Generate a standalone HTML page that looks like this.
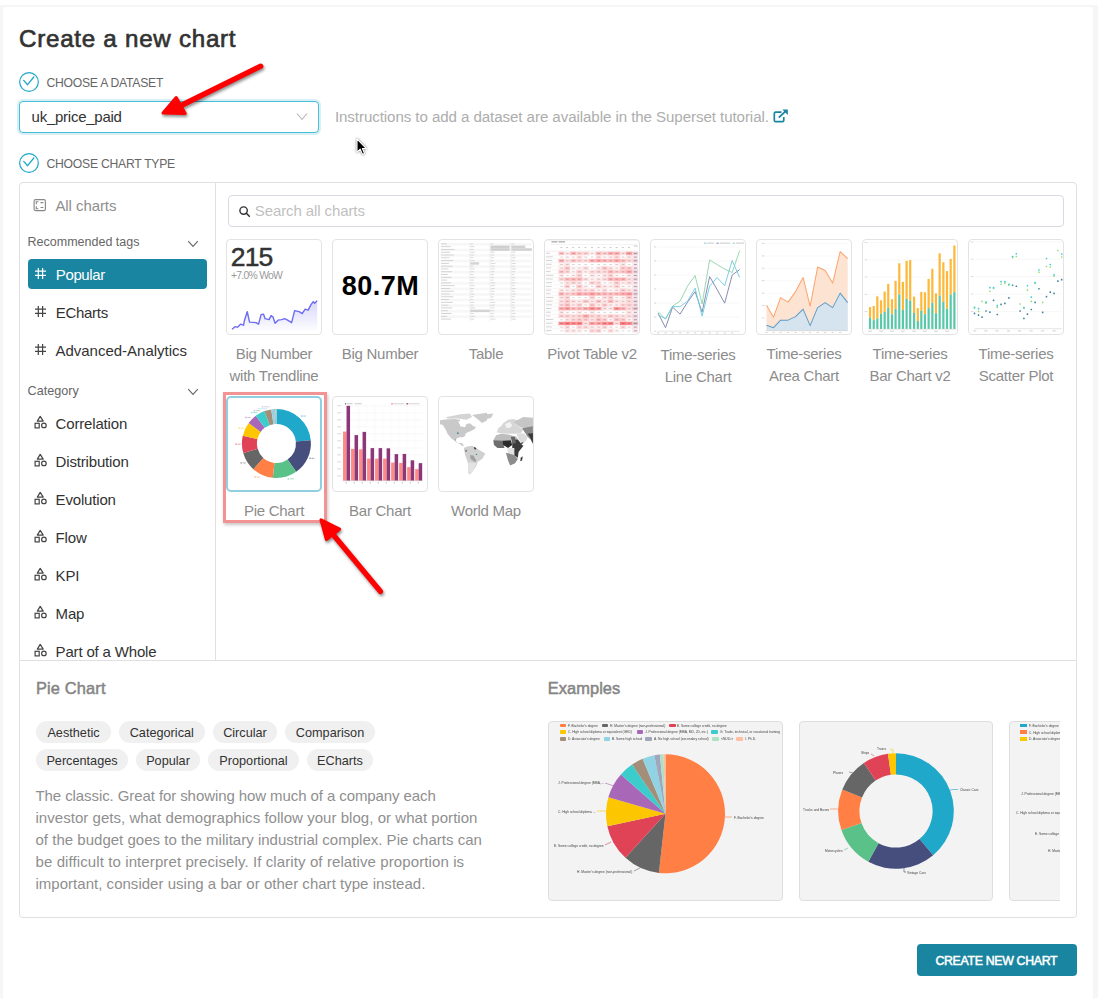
<!DOCTYPE html><html><head><meta charset="utf-8"><style>
html,body{margin:0;padding:0;}
body{width:1098px;height:998px;position:relative;overflow:hidden;background:#fff;font-family:"Liberation Sans",sans-serif;}
.t{position:absolute;white-space:pre;}
.b{position:absolute;box-sizing:border-box;}
svg{position:absolute;overflow:visible;}
</style></head><body>
<div class="b" style="left:0px;top:5px;width:1098px;height:993px;background:#f6f6f6;"></div>
<div class="b" style="left:3px;top:7px;width:1090px;height:1000px;background:#fff;border-radius:4px;"></div>
<div class="t" style="left:19.0px;top:23.69px;font-size:24.2px;line-height:29.04px;color:#323232;letter-spacing:0.72px;-webkit-text-stroke:0.65px #323232;">Create a new chart</div>
<svg style="left:19px;top:72px" width="20" height="20" viewBox="0 0 20 20"><circle cx="10" cy="10" r="9.35" fill="none" stroke="#20a7c9" stroke-width="1.2"/><path d="M4.7 8.4 L8.6 12.7 L14.8 5.0" fill="none" stroke="#20a7c9" stroke-width="1.3" stroke-linecap="round" stroke-linejoin="round"/></svg>
<div class="t" style="left:46.4px;top:75.95px;font-size:12.2px;line-height:14.64px;color:#666;letter-spacing:-0.25px;">CHOOSE A DATASET</div>
<svg style="left:19px;top:153px" width="20" height="20" viewBox="0 0 20 20"><circle cx="10" cy="10" r="9.35" fill="none" stroke="#20a7c9" stroke-width="1.2"/><path d="M4.7 8.4 L8.6 12.7 L14.8 5.0" fill="none" stroke="#20a7c9" stroke-width="1.3" stroke-linecap="round" stroke-linejoin="round"/></svg>
<div class="t" style="left:46.5px;top:156.95px;font-size:12.2px;line-height:14.64px;color:#666;letter-spacing:-0.25px;">CHOOSE CHART TYPE</div>
<div class="b" style="left:19px;top:101px;width:300px;height:32px;border:1px solid #45bed6;border-radius:4px;box-shadow:0 0 0 2px rgba(32,167,201,0.18);background:#fff;"></div>
<div class="t" style="left:31.6px;top:108.30px;font-size:15px;line-height:18.0px;color:#323232;letter-spacing:-0.26px;">uk_price_paid</div>
<svg style="left:296px;top:112px" width="12" height="9" viewBox="0 0 12 9"><path d="M1 1.5 L6 7.5 L11 1.5" fill="none" stroke="#b5b5b5" stroke-width="1.1"/></svg>
<div class="t" style="left:334.9px;top:108.21px;font-size:15.1px;line-height:18.12px;color:#adadad;letter-spacing:-0.07px;">Instructions to add a dataset are available in the Superset tutorial.</div>
<svg style="left:773px;top:109px" width="16" height="14" viewBox="0 0 16 14"><path d="M8.5 3.2 H2.8 Q1.3 3.2 1.3 4.7 V11.2 Q1.3 12.7 2.8 12.7 H9.3 Q10.8 12.7 10.8 11.2 V8" fill="none" stroke="#1a85a0" stroke-width="1.7"/><path d="M5.8 8.6 L13.2 1.6" stroke="#1a85a0" stroke-width="1.9"/><path d="M9.3 0.6 H14.8 V6.1 Z" fill="#1a85a0"/></svg>
<svg style="left:355.4px;top:137px" width="14" height="20" viewBox="0 0 14 20"><path d="M2 1.8 V15.2 L5.2 12.2 L7.5 17.4 L9.6 16.5 L7.4 11.5 L11.4 11.5 Z" fill="#000" stroke="#fff" stroke-width="1.1" stroke-linejoin="round" style="filter:drop-shadow(0.6px 0.9px 0.8px rgba(0,0,0,0.55))"/></svg>
<div class="b" style="left:19px;top:182px;width:1058px;height:736px;border:1px solid #e0e0e0;border-radius:4px;"></div>
<div class="b" style="left:215px;top:183px;width:1px;height:477px;background:#e0e0e0;"></div>
<div class="b" style="left:20px;top:660px;width:1056px;height:1px;background:#e0e0e0;"></div>
<div class="b" style="left:20px;top:183px;width:195px;height:477px;overflow:hidden;">
<div style="position:absolute;left:-20px;top:-183px;width:300px;height:900px;">
<svg style="left:32.7px;top:199px" width="13" height="13" viewBox="0 0 13 13"><rect x="1.1" y="0.6" width="11.3" height="11.0" rx="1.6" fill="none" stroke="#888" stroke-width="1.15"/><path d="M5.4 2.7 H3.3 V5.2 M5.4 9.7 H3.3 V7.3" fill="none" stroke="#888" stroke-width="1.15"/><path d="M7.5 3.6 H10.4 M7.5 8.5 H10.4" stroke="#888" stroke-width="1.2"/></svg>
<div class="t" style="left:55.4px;top:197.30px;font-size:15px;line-height:18.0px;color:#8e8e8e;letter-spacing:-0.07px;">All charts</div>
<div class="t" style="left:27.6px;top:234.67px;font-size:12.5px;line-height:15.0px;color:#666;">Recommended tags</div>
<svg style="left:187px;top:239.8px" width="12" height="8" viewBox="0 0 12 8"><path d="M1.2 1.2 L6 6.4 L10.8 1.2" fill="none" stroke="#666" stroke-width="1.1"/></svg>
<div class="b" style="left:28px;top:259px;width:179px;height:30px;background:#1a85a0;border-radius:4px;"></div>
<svg style="left:34px;top:267.0px" width="13" height="13" viewBox="0 0 13 13"><path d="M4.3 1 V12 M8.6 1 V12 M1 4.1 H12 M1 8.3 H12" stroke="#fff" stroke-width="1.2"/></svg>
<div class="t" style="left:55.8px;top:266.30px;font-size:15px;line-height:18.0px;color:#fff;letter-spacing:-0.38px;">Popular</div>
<svg style="left:34px;top:304.7px" width="13" height="13" viewBox="0 0 13 13"><path d="M4.3 1 V12 M8.6 1 V12 M1 4.1 H12 M1 8.3 H12" stroke="#444" stroke-width="1.2"/></svg>
<div class="t" style="left:55.8px;top:304.30px;font-size:15px;line-height:18.0px;color:#323232;letter-spacing:-0.3px;">ECharts</div>
<svg style="left:34px;top:342.7px" width="13" height="13" viewBox="0 0 13 13"><path d="M4.3 1 V12 M8.6 1 V12 M1 4.1 H12 M1 8.3 H12" stroke="#444" stroke-width="1.2"/></svg>
<div class="t" style="left:55.4px;top:342.30px;font-size:15px;line-height:18.0px;color:#323232;">Advanced-Analytics</div>
<div class="t" style="left:27.6px;top:383.57px;font-size:12.6px;line-height:15.12px;color:#666;">Category</div>
<svg style="left:187px;top:388.3px" width="12" height="8" viewBox="0 0 12 8"><path d="M1.2 1.2 L6 6.4 L10.8 1.2" fill="none" stroke="#666" stroke-width="1.1"/></svg>
<svg style="left:33.5px;top:416.2px" width="13" height="13" viewBox="0 0 13 13"><path d="M6.2 0.4 L9.2 5.1 H3.3 Z" fill="none" stroke="#444" stroke-width="1.2" stroke-linejoin="round"/><rect x="1.1" y="7.3" width="4.1" height="4.6" fill="none" stroke="#444" stroke-width="1.2"/><circle cx="9.9" cy="9.4" r="2.3" fill="none" stroke="#444" stroke-width="1.2"/></svg>
<div class="t" style="left:55.6px;top:415.30px;font-size:15px;line-height:18.0px;color:#323232;letter-spacing:-0.17px;">Correlation</div>
<svg style="left:33.5px;top:454.2px" width="13" height="13" viewBox="0 0 13 13"><path d="M6.2 0.4 L9.2 5.1 H3.3 Z" fill="none" stroke="#444" stroke-width="1.2" stroke-linejoin="round"/><rect x="1.1" y="7.3" width="4.1" height="4.6" fill="none" stroke="#444" stroke-width="1.2"/><circle cx="9.9" cy="9.4" r="2.3" fill="none" stroke="#444" stroke-width="1.2"/></svg>
<div class="t" style="left:55.6px;top:453.30px;font-size:15px;line-height:18.0px;color:#323232;letter-spacing:-0.17px;">Distribution</div>
<svg style="left:33.5px;top:492.2px" width="13" height="13" viewBox="0 0 13 13"><path d="M6.2 0.4 L9.2 5.1 H3.3 Z" fill="none" stroke="#444" stroke-width="1.2" stroke-linejoin="round"/><rect x="1.1" y="7.3" width="4.1" height="4.6" fill="none" stroke="#444" stroke-width="1.2"/><circle cx="9.9" cy="9.4" r="2.3" fill="none" stroke="#444" stroke-width="1.2"/></svg>
<div class="t" style="left:55.6px;top:491.30px;font-size:15px;line-height:18.0px;color:#323232;letter-spacing:-0.17px;">Evolution</div>
<svg style="left:33.5px;top:530.2px" width="13" height="13" viewBox="0 0 13 13"><path d="M6.2 0.4 L9.2 5.1 H3.3 Z" fill="none" stroke="#444" stroke-width="1.2" stroke-linejoin="round"/><rect x="1.1" y="7.3" width="4.1" height="4.6" fill="none" stroke="#444" stroke-width="1.2"/><circle cx="9.9" cy="9.4" r="2.3" fill="none" stroke="#444" stroke-width="1.2"/></svg>
<div class="t" style="left:55.6px;top:529.30px;font-size:15px;line-height:18.0px;color:#323232;letter-spacing:-0.17px;">Flow</div>
<svg style="left:33.5px;top:568.2px" width="13" height="13" viewBox="0 0 13 13"><path d="M6.2 0.4 L9.2 5.1 H3.3 Z" fill="none" stroke="#444" stroke-width="1.2" stroke-linejoin="round"/><rect x="1.1" y="7.3" width="4.1" height="4.6" fill="none" stroke="#444" stroke-width="1.2"/><circle cx="9.9" cy="9.4" r="2.3" fill="none" stroke="#444" stroke-width="1.2"/></svg>
<div class="t" style="left:55.6px;top:567.30px;font-size:15px;line-height:18.0px;color:#323232;letter-spacing:-0.17px;">KPI</div>
<svg style="left:33.5px;top:606.2px" width="13" height="13" viewBox="0 0 13 13"><path d="M6.2 0.4 L9.2 5.1 H3.3 Z" fill="none" stroke="#444" stroke-width="1.2" stroke-linejoin="round"/><rect x="1.1" y="7.3" width="4.1" height="4.6" fill="none" stroke="#444" stroke-width="1.2"/><circle cx="9.9" cy="9.4" r="2.3" fill="none" stroke="#444" stroke-width="1.2"/></svg>
<div class="t" style="left:55.6px;top:605.30px;font-size:15px;line-height:18.0px;color:#323232;letter-spacing:-0.17px;">Map</div>
<svg style="left:33.5px;top:644.2px" width="13" height="13" viewBox="0 0 13 13"><path d="M6.2 0.4 L9.2 5.1 H3.3 Z" fill="none" stroke="#444" stroke-width="1.2" stroke-linejoin="round"/><rect x="1.1" y="7.3" width="4.1" height="4.6" fill="none" stroke="#444" stroke-width="1.2"/><circle cx="9.9" cy="9.4" r="2.3" fill="none" stroke="#444" stroke-width="1.2"/></svg>
<div class="t" style="left:55.6px;top:643.30px;font-size:15px;line-height:18.0px;color:#323232;letter-spacing:-0.17px;">Part of a Whole</div>
</div></div>
<div class="b" style="left:228px;top:195px;width:836px;height:32px;border:1px solid #d9dbe4;border-radius:4px;"></div>
<svg style="left:238px;top:205px" width="13" height="13" viewBox="0 0 13 13"><circle cx="5.6" cy="5.6" r="3.7" fill="none" stroke="#333" stroke-width="1.4"/><path d="M8.3 8.3 L11.3 11.3" stroke="#333" stroke-width="1.6" stroke-linecap="round"/></svg>
<div class="t" style="left:254.8px;top:202.30px;font-size:15px;line-height:18.0px;color:#bfbfbf;letter-spacing:-0.1px;">Search all charts</div>
<div class="b" style="left:226px;top:239px;width:96px;height:96px;border:1px solid #e3e3e3;border-radius:4px;background:#fff;"></div>
<div class="b" style="left:332px;top:239px;width:96px;height:96px;border:1px solid #e3e3e3;border-radius:4px;background:#fff;"></div>
<div class="b" style="left:438px;top:239px;width:96px;height:96px;border:1px solid #e3e3e3;border-radius:4px;background:#fff;"></div>
<div class="b" style="left:544px;top:239px;width:96px;height:96px;border:1px solid #e3e3e3;border-radius:4px;background:#fff;"></div>
<div class="b" style="left:650px;top:239px;width:96px;height:96px;border:1px solid #e3e3e3;border-radius:4px;background:#fff;"></div>
<div class="b" style="left:756px;top:239px;width:96px;height:96px;border:1px solid #e3e3e3;border-radius:4px;background:#fff;"></div>
<div class="b" style="left:862px;top:239px;width:96px;height:96px;border:1px solid #e3e3e3;border-radius:4px;background:#fff;"></div>
<div class="b" style="left:968px;top:239px;width:96px;height:96px;border:1px solid #e3e3e3;border-radius:4px;background:#fff;"></div>
<div class="b" style="left:0;top:0;width:1098px;height:998px;">
<svg style="left:225px;top:237px" width="100" height="100" viewBox="0 0 998 998"><defs><linearGradient id="g1" x1="0" y1="0" x2="0" y2="1"><stop offset="0" stop-color="#6e6cf0" stop-opacity="0.28"/><stop offset="1" stop-color="#6e6cf0" stop-opacity="0.02"/></linearGradient></defs><path d="M70 920 L100 895 L125 900 L155 870 L185 880 L195 830 L222 745 L245 850 L310 855 L335 870 L360 775 L385 770 L400 815 L440 825 L460 785 L480 800 L500 860 L530 830 L565 825 L595 815 L625 830 L665 855 L695 735 L740 745 L770 765 L800 720 L830 730 L855 680 L880 645 L895 660 L920 635 L920 930 L70 930 Z" fill="url(#g1)"/><path d="M70 920 L100 895 L125 900 L155 870 L185 880 L195 830 L222 745 L245 850 L310 855 L335 870 L360 775 L385 770 L400 815 L440 825 L460 785 L480 800 L500 860 L530 830 L565 825 L595 815 L625 830 L665 855 L695 735 L740 745 L770 765 L800 720 L830 730 L855 680 L880 645 L895 660 L920 635" fill="none" stroke="#6c6cf2" stroke-width="14" stroke-linejoin="round"/></svg>
<div class="t" style="left:230.8px;top:242.42px;font-size:26.5px;line-height:31.8px;color:#333;letter-spacing:-0.9px;-webkit-text-stroke:0.5px #333;">215</div>
<div class="t" style="left:231px;top:270.06px;font-size:10.4px;line-height:12.48px;color:#9a9a9a;letter-spacing:-0.75px;">+7.0% WoW</div>
<div class="t" style="left:341.8px;top:270.24px;font-size:27px;line-height:32.4px;color:#000;font-weight:700;letter-spacing:0.5px;">80.7M</div>
<svg style="left:437px;top:237px" width="100" height="100" viewBox="0 0 998 998"><rect x="35" y="60.0" width="910" height="26" fill="#f7f7f7"/><rect x="40" y="64.0" width="60" height="9" fill="#d0d0d0"/><rect x="335" y="64.0" width="25" height="9" fill="#d6d6d6"/><rect x="538" y="64.0" width="25" height="9" fill="#d6d6d6"/><rect x="745" y="64.0" width="25" height="9" fill="#d6d6d6"/><rect x="40" y="91.8" width="97" height="9" fill="#d0d0d0"/><rect x="335" y="91.8" width="38" height="9" fill="#d6d6d6"/><rect x="538" y="91.8" width="42" height="9" fill="#d6d6d6"/><rect x="745" y="91.8" width="36" height="9" fill="#d6d6d6"/><rect x="35" y="115.6" width="910" height="26" fill="#f7f7f7"/><rect x="40" y="119.6" width="134" height="9" fill="#d0d0d0"/><rect x="335" y="119.6" width="31" height="9" fill="#d6d6d6"/><rect x="538" y="119.6" width="39" height="9" fill="#d6d6d6"/><rect x="745" y="119.6" width="27" height="9" fill="#d6d6d6"/><rect x="40" y="147.4" width="91" height="9" fill="#d0d0d0"/><rect x="335" y="147.4" width="44" height="9" fill="#d6d6d6"/><rect x="538" y="147.4" width="36" height="9" fill="#d6d6d6"/><rect x="745" y="147.4" width="38" height="9" fill="#d6d6d6"/><rect x="35" y="171.2" width="910" height="26" fill="#f7f7f7"/><rect x="40" y="175.2" width="128" height="9" fill="#d0d0d0"/><rect x="335" y="175.2" width="37" height="9" fill="#d6d6d6"/><rect x="538" y="175.2" width="33" height="9" fill="#d6d6d6"/><rect x="745" y="175.2" width="29" height="9" fill="#d6d6d6"/><rect x="40" y="203.0" width="85" height="9" fill="#d0d0d0"/><rect x="335" y="203.0" width="30" height="9" fill="#d6d6d6"/><rect x="538" y="203.0" width="30" height="9" fill="#d6d6d6"/><rect x="745" y="203.0" width="40" height="9" fill="#d6d6d6"/><rect x="35" y="226.8" width="910" height="26" fill="#f7f7f7"/><rect x="40" y="230.8" width="122" height="9" fill="#d0d0d0"/><rect x="335" y="230.8" width="43" height="9" fill="#d6d6d6"/><rect x="538" y="230.8" width="27" height="9" fill="#d6d6d6"/><rect x="745" y="230.8" width="31" height="9" fill="#d6d6d6"/><rect x="40" y="258.6" width="79" height="9" fill="#d0d0d0"/><rect x="335" y="258.6" width="36" height="9" fill="#d6d6d6"/><rect x="538" y="258.6" width="44" height="9" fill="#d6d6d6"/><rect x="745" y="258.6" width="42" height="9" fill="#d6d6d6"/><rect x="35" y="282.4" width="910" height="26" fill="#f7f7f7"/><rect x="40" y="286.4" width="116" height="9" fill="#d0d0d0"/><rect x="335" y="286.4" width="29" height="9" fill="#d6d6d6"/><rect x="538" y="286.4" width="41" height="9" fill="#d6d6d6"/><rect x="745" y="286.4" width="33" height="9" fill="#d6d6d6"/><rect x="40" y="314.20000000000005" width="73" height="9" fill="#d0d0d0"/><rect x="335" y="314.20000000000005" width="42" height="9" fill="#d6d6d6"/><rect x="538" y="314.20000000000005" width="38" height="9" fill="#d6d6d6"/><rect x="745" y="314.20000000000005" width="44" height="9" fill="#d6d6d6"/><rect x="35" y="338.0" width="910" height="26" fill="#f7f7f7"/><rect x="40" y="342.0" width="110" height="9" fill="#d0d0d0"/><rect x="335" y="342.0" width="35" height="9" fill="#d6d6d6"/><rect x="538" y="342.0" width="35" height="9" fill="#d6d6d6"/><rect x="745" y="342.0" width="35" height="9" fill="#d6d6d6"/><rect x="40" y="369.8" width="67" height="9" fill="#d0d0d0"/><rect x="335" y="369.8" width="28" height="9" fill="#d6d6d6"/><rect x="538" y="369.8" width="32" height="9" fill="#d6d6d6"/><rect x="745" y="369.8" width="26" height="9" fill="#d6d6d6"/><rect x="35" y="393.6" width="910" height="26" fill="#f7f7f7"/><rect x="40" y="397.6" width="104" height="9" fill="#d0d0d0"/><rect x="335" y="397.6" width="41" height="9" fill="#d6d6d6"/><rect x="538" y="397.6" width="29" height="9" fill="#d6d6d6"/><rect x="745" y="397.6" width="37" height="9" fill="#d6d6d6"/><rect x="40" y="425.40000000000003" width="61" height="9" fill="#d0d0d0"/><rect x="335" y="425.40000000000003" width="34" height="9" fill="#d6d6d6"/><rect x="538" y="425.40000000000003" width="26" height="9" fill="#d6d6d6"/><rect x="745" y="425.40000000000003" width="28" height="9" fill="#d6d6d6"/><rect x="35" y="449.2" width="910" height="26" fill="#f7f7f7"/><rect x="40" y="453.2" width="98" height="9" fill="#d0d0d0"/><rect x="335" y="453.2" width="27" height="9" fill="#d6d6d6"/><rect x="538" y="453.2" width="43" height="9" fill="#d6d6d6"/><rect x="745" y="453.2" width="39" height="9" fill="#d6d6d6"/><rect x="40" y="481.0" width="135" height="9" fill="#d0d0d0"/><rect x="335" y="481.0" width="40" height="9" fill="#d6d6d6"/><rect x="538" y="481.0" width="40" height="9" fill="#d6d6d6"/><rect x="745" y="481.0" width="30" height="9" fill="#d6d6d6"/><rect x="35" y="504.79999999999995" width="910" height="26" fill="#f7f7f7"/><rect x="40" y="508.79999999999995" width="92" height="9" fill="#d0d0d0"/><rect x="335" y="508.79999999999995" width="33" height="9" fill="#d6d6d6"/><rect x="538" y="508.79999999999995" width="37" height="9" fill="#d6d6d6"/><rect x="745" y="508.79999999999995" width="41" height="9" fill="#d6d6d6"/><rect x="40" y="536.6" width="129" height="9" fill="#d0d0d0"/><rect x="335" y="536.6" width="26" height="9" fill="#d6d6d6"/><rect x="538" y="536.6" width="34" height="9" fill="#d6d6d6"/><rect x="745" y="536.6" width="32" height="9" fill="#d6d6d6"/><rect x="35" y="560.4000000000001" width="910" height="26" fill="#f7f7f7"/><rect x="40" y="564.4000000000001" width="86" height="9" fill="#d0d0d0"/><rect x="335" y="564.4000000000001" width="39" height="9" fill="#d6d6d6"/><rect x="538" y="564.4000000000001" width="31" height="9" fill="#d6d6d6"/><rect x="745" y="564.4000000000001" width="43" height="9" fill="#d6d6d6"/><rect x="40" y="592.2" width="123" height="9" fill="#d0d0d0"/><rect x="335" y="592.2" width="32" height="9" fill="#d6d6d6"/><rect x="538" y="592.2" width="28" height="9" fill="#d6d6d6"/><rect x="745" y="592.2" width="34" height="9" fill="#d6d6d6"/><rect x="35" y="616.0" width="910" height="26" fill="#f7f7f7"/><rect x="40" y="620.0" width="80" height="9" fill="#d0d0d0"/><rect x="335" y="620.0" width="25" height="9" fill="#d6d6d6"/><rect x="538" y="620.0" width="25" height="9" fill="#d6d6d6"/><rect x="745" y="620.0" width="25" height="9" fill="#d6d6d6"/><rect x="40" y="647.8000000000001" width="117" height="9" fill="#d0d0d0"/><rect x="335" y="647.8000000000001" width="38" height="9" fill="#d6d6d6"/><rect x="538" y="647.8000000000001" width="42" height="9" fill="#d6d6d6"/><rect x="745" y="647.8000000000001" width="36" height="9" fill="#d6d6d6"/><rect x="35" y="671.6" width="910" height="26" fill="#f7f7f7"/><rect x="40" y="675.6" width="74" height="9" fill="#d0d0d0"/><rect x="335" y="675.6" width="31" height="9" fill="#d6d6d6"/><rect x="538" y="675.6" width="39" height="9" fill="#d6d6d6"/><rect x="745" y="675.6" width="27" height="9" fill="#d6d6d6"/><rect x="40" y="703.4" width="111" height="9" fill="#d0d0d0"/><rect x="335" y="703.4" width="44" height="9" fill="#d6d6d6"/><rect x="538" y="703.4" width="36" height="9" fill="#d6d6d6"/><rect x="745" y="703.4" width="38" height="9" fill="#d6d6d6"/><rect x="35" y="727.2" width="910" height="26" fill="#f7f7f7"/><rect x="40" y="731.2" width="68" height="9" fill="#d0d0d0"/><rect x="335" y="731.2" width="37" height="9" fill="#d6d6d6"/><rect x="538" y="731.2" width="33" height="9" fill="#d6d6d6"/><rect x="745" y="731.2" width="29" height="9" fill="#d6d6d6"/><rect x="40" y="759.0" width="105" height="9" fill="#d0d0d0"/><rect x="335" y="759.0" width="30" height="9" fill="#d6d6d6"/><rect x="538" y="759.0" width="30" height="9" fill="#d6d6d6"/><rect x="745" y="759.0" width="40" height="9" fill="#d6d6d6"/><rect x="35" y="782.8000000000001" width="910" height="26" fill="#f7f7f7"/><rect x="40" y="786.8000000000001" width="62" height="9" fill="#d0d0d0"/><rect x="335" y="786.8000000000001" width="43" height="9" fill="#d6d6d6"/><rect x="538" y="786.8000000000001" width="27" height="9" fill="#d6d6d6"/><rect x="745" y="786.8000000000001" width="31" height="9" fill="#d6d6d6"/><rect x="40" y="814.6" width="99" height="9" fill="#d0d0d0"/><rect x="335" y="814.6" width="36" height="9" fill="#d6d6d6"/><rect x="538" y="814.6" width="44" height="9" fill="#d6d6d6"/><rect x="745" y="814.6" width="42" height="9" fill="#d6d6d6"/><rect x="535" y="85" width="190" height="26" fill="#cfcfcf"/><rect x="535" y="112" width="190" height="26" fill="#cfcfcf"/><rect x="742" y="85" width="140" height="26" fill="#d2d2d2"/><rect x="742" y="112" width="205" height="26" fill="#d2d2d2"/><rect x="332" y="252" width="88" height="24" fill="#d4d4d4"/><rect x="332" y="725" width="198" height="24" fill="#d4d4d4"/><path d="M330 55 V840 M530 55 V840 M738 55 V840" stroke="#e2e2e2" stroke-width="6"/></svg>
<svg style="left:543px;top:237px" width="100" height="100" viewBox="0 0 998 998"><path d="M25 35 H950 M75 75 H950 M25 140 H950" stroke="#e8e8e8" stroke-width="5"/><rect x="85" y="40" width="60" height="16" fill="#bbb"/><rect x="155" y="40" width="65" height="16" fill="#bbb"/><rect x="905" y="85" width="40" height="10" fill="#c8c8c8"/><rect x="175" y="100" width="18" height="10" fill="#c8c8c8"/><rect x="232" y="100" width="18" height="10" fill="#c8c8c8"/><rect x="292" y="100" width="18" height="10" fill="#c8c8c8"/><rect x="352" y="100" width="18" height="10" fill="#c8c8c8"/><rect x="415" y="100" width="18" height="10" fill="#c8c8c8"/><rect x="480" y="100" width="18" height="10" fill="#c8c8c8"/><rect x="545" y="100" width="18" height="10" fill="#c8c8c8"/><rect x="605" y="100" width="18" height="10" fill="#c8c8c8"/><rect x="665" y="100" width="18" height="10" fill="#c8c8c8"/><rect x="725" y="100" width="18" height="10" fill="#c8c8c8"/><rect x="788" y="100" width="18" height="10" fill="#c8c8c8"/><rect x="848" y="100" width="18" height="10" fill="#c8c8c8"/><rect x="30" y="157.0" width="40" height="9" fill="#cfcfcf"/><path d="M25 145.0 H950" stroke="#ececec" stroke-width="4"/><rect x="155" y="147.0" width="57" height="35" fill="rgb(255,192,194)"/><rect x="173" y="159.0" width="26" height="9" fill="rgba(60,60,60,0.2629533105933265)"/><rect x="212" y="147.0" width="60" height="35" fill="rgb(255,230,231)"/><rect x="230" y="159.0" width="26" height="9" fill="rgba(60,60,60,0.23681121367647825)"/><rect x="272" y="147.0" width="60" height="35" fill="rgb(255,180,182)"/><rect x="290" y="159.0" width="26" height="9" fill="rgba(60,60,60,0.2714352801722676)"/><rect x="332" y="147.0" width="63" height="35" fill="rgb(255,208,209)"/><rect x="350" y="159.0" width="26" height="9" fill="rgba(60,60,60,0.2523199569909883)"/><rect x="395" y="147.0" width="65" height="35" fill="rgb(255,209,210)"/><rect x="413" y="159.0" width="26" height="9" fill="rgba(60,60,60,0.2514998263376794)"/><rect x="460" y="147.0" width="65" height="35" fill="rgb(255,240,241)"/><rect x="478" y="159.0" width="26" height="9" fill="rgba(60,60,60,0.22983826508289543)"/><rect x="525" y="147.0" width="60" height="35" fill="rgb(255,186,189)"/><rect x="543" y="159.0" width="26" height="9" fill="rgba(60,60,60,0.26698076756570055)"/><rect x="585" y="147.0" width="60" height="35" fill="rgb(255,204,206)"/><rect x="603" y="159.0" width="26" height="9" fill="rgba(60,60,60,0.25495207844598583)"/><rect x="645" y="147.0" width="60" height="35" fill="rgb(255,175,177)"/><rect x="663" y="159.0" width="26" height="9" fill="rgba(60,60,60,0.27509732889622357)"/><rect x="705" y="147.0" width="63" height="35" fill="rgb(255,178,180)"/><rect x="723" y="159.0" width="26" height="9" fill="rgba(60,60,60,0.27308411794469994)"/><rect x="768" y="147.0" width="60" height="35" fill="rgb(255,224,225)"/><rect x="786" y="159.0" width="26" height="9" fill="rgba(60,60,60,0.24071506126711503)"/><rect x="828" y="147.0" width="62" height="35" fill="rgb(255,161,164)"/><rect x="846" y="159.0" width="26" height="9" fill="rgba(60,60,60,0.2843387383619472)"/><rect x="890" y="147.0" width="60" height="35" fill="rgb(235,205,212)"/><rect x="908" y="159.0" width="28" height="9" fill="#55557a" fill-opacity="0.55"/><rect x="30" y="193.8" width="69" height="9" fill="#cfcfcf"/><path d="M25 181.8 H950" stroke="#ececec" stroke-width="4"/><rect x="155" y="183.8" width="57" height="35" fill="rgb(255,254,254)"/><rect x="173" y="195.8" width="26" height="9" fill="rgba(60,60,60,0.22023106100028925)"/><rect x="212" y="183.8" width="60" height="35" fill="rgb(255,244,244)"/><rect x="230" y="195.8" width="26" height="9" fill="rgba(60,60,60,0.22733927296407738)"/><rect x="272" y="183.8" width="60" height="35" fill="rgb(255,251,251)"/><rect x="290" y="195.8" width="26" height="9" fill="rgba(60,60,60,0.22222905519695751)"/><rect x="332" y="183.8" width="63" height="35" fill="rgb(255,225,226)"/><rect x="350" y="195.8" width="26" height="9" fill="rgba(60,60,60,0.24055653875704736)"/><rect x="395" y="183.8" width="65" height="35" fill="rgb(255,247,247)"/><rect x="413" y="195.8" width="26" height="9" fill="rgba(60,60,60,0.22507293358851468)"/><rect x="460" y="183.8" width="65" height="35" fill="rgb(255,255,255)"/><rect x="478" y="195.8" width="26" height="9" fill="rgba(60,60,60,0.22)"/><rect x="525" y="183.8" width="60" height="35" fill="rgb(255,222,223)"/><rect x="543" y="195.8" width="26" height="9" fill="rgba(60,60,60,0.24221599892727144)"/><rect x="585" y="183.8" width="60" height="35" fill="rgb(255,244,244)"/><rect x="603" y="195.8" width="26" height="9" fill="rgba(60,60,60,0.22756588681507167)"/><rect x="645" y="183.8" width="60" height="35" fill="rgb(255,235,236)"/><rect x="663" y="195.8" width="26" height="9" fill="rgba(60,60,60,0.23312737505483103)"/><rect x="705" y="183.8" width="63" height="35" fill="rgb(255,216,217)"/><rect x="723" y="195.8" width="26" height="9" fill="rgba(60,60,60,0.24677517926089965)"/><rect x="768" y="183.8" width="60" height="35" fill="rgb(255,248,248)"/><rect x="786" y="195.8" width="26" height="9" fill="rgba(60,60,60,0.2247638604288861)"/><rect x="828" y="183.8" width="62" height="35" fill="rgb(255,231,232)"/><rect x="846" y="195.8" width="26" height="9" fill="rgba(60,60,60,0.23600786015245806)"/><rect x="890" y="183.8" width="60" height="35" fill="rgb(249,226,231)"/><rect x="908" y="195.8" width="28" height="9" fill="#55557a" fill-opacity="0.55"/><rect x="30" y="230.6" width="63" height="9" fill="#cfcfcf"/><path d="M25 218.6 H950" stroke="#ececec" stroke-width="4"/><rect x="155" y="220.6" width="57" height="35" fill="rgb(255,176,179)"/><rect x="173" y="232.6" width="26" height="9" fill="rgba(60,60,60,0.2741778115775687)"/><rect x="212" y="220.6" width="60" height="35" fill="rgb(255,227,228)"/><rect x="230" y="232.6" width="26" height="9" fill="rgba(60,60,60,0.23926209816991098)"/><rect x="272" y="220.6" width="60" height="35" fill="rgb(255,194,196)"/><rect x="290" y="232.6" width="26" height="9" fill="rgba(60,60,60,0.2617249128714091)"/><rect x="332" y="220.6" width="63" height="35" fill="rgb(255,209,211)"/><rect x="350" y="232.6" width="26" height="9" fill="rgba(60,60,60,0.25107938138642016)"/><rect x="395" y="220.6" width="65" height="35" fill="rgb(255,216,217)"/><rect x="413" y="232.6" width="26" height="9" fill="rgba(60,60,60,0.2465682902818975)"/><rect x="460" y="220.6" width="65" height="35" fill="rgb(255,174,177)"/><rect x="478" y="232.6" width="26" height="9" fill="rgba(60,60,60,0.2755828346485125)"/><rect x="525" y="220.6" width="60" height="35" fill="rgb(255,167,170)"/><rect x="543" y="232.6" width="26" height="9" fill="rgba(60,60,60,0.2800191124732355)"/><rect x="585" y="220.6" width="60" height="35" fill="rgb(255,178,181)"/><rect x="603" y="232.6" width="26" height="9" fill="rgba(60,60,60,0.2728118146509464)"/><rect x="645" y="220.6" width="60" height="35" fill="rgb(255,185,187)"/><rect x="663" y="232.6" width="26" height="9" fill="rgba(60,60,60,0.2681958081712997)"/><rect x="705" y="220.6" width="63" height="35" fill="rgb(255,170,172)"/><rect x="723" y="232.6" width="26" height="9" fill="rgba(60,60,60,0.27859871122050167)"/><rect x="768" y="220.6" width="60" height="35" fill="rgb(255,191,193)"/><rect x="786" y="232.6" width="26" height="9" fill="rgba(60,60,60,0.26396393349678576)"/><rect x="828" y="220.6" width="62" height="35" fill="rgb(255,215,216)"/><rect x="846" y="232.6" width="26" height="9" fill="rgba(60,60,60,0.2474267771038888)"/><rect x="890" y="220.6" width="60" height="35" fill="rgb(237,208,215)"/><rect x="908" y="232.6" width="28" height="9" fill="#55557a" fill-opacity="0.55"/><rect x="30" y="267.4" width="57" height="9" fill="#cfcfcf"/><path d="M25 255.39999999999998 H950" stroke="#ececec" stroke-width="4"/><rect x="155" y="257.4" width="57" height="35" fill="rgb(255,239,239)"/><rect x="173" y="269.4" width="26" height="9" fill="rgba(60,60,60,0.23088515418110675)"/><rect x="212" y="257.4" width="60" height="35" fill="rgb(255,229,229)"/><rect x="230" y="269.4" width="26" height="9" fill="rgba(60,60,60,0.2378769914643886)"/><rect x="272" y="257.4" width="60" height="35" fill="rgb(255,254,254)"/><rect x="290" y="269.4" width="26" height="9" fill="rgba(60,60,60,0.22043165769786843)"/><rect x="332" y="257.4" width="63" height="35" fill="rgb(255,255,255)"/><rect x="350" y="269.4" width="26" height="9" fill="rgba(60,60,60,0.22)"/><rect x="395" y="257.4" width="65" height="35" fill="rgb(255,255,255)"/><rect x="413" y="269.4" width="26" height="9" fill="rgba(60,60,60,0.22)"/><rect x="460" y="257.4" width="65" height="35" fill="rgb(255,255,255)"/><rect x="478" y="269.4" width="26" height="9" fill="rgba(60,60,60,0.22)"/><rect x="525" y="257.4" width="60" height="35" fill="rgb(255,255,255)"/><rect x="543" y="269.4" width="26" height="9" fill="rgba(60,60,60,0.22)"/><rect x="585" y="257.4" width="60" height="35" fill="rgb(255,254,254)"/><rect x="603" y="269.4" width="26" height="9" fill="rgba(60,60,60,0.2206379881253291)"/><rect x="645" y="257.4" width="60" height="35" fill="rgb(255,255,255)"/><rect x="663" y="269.4" width="26" height="9" fill="rgba(60,60,60,0.22)"/><rect x="705" y="257.4" width="63" height="35" fill="rgb(255,244,245)"/><rect x="723" y="269.4" width="26" height="9" fill="rgba(60,60,60,0.2269775963657615)"/><rect x="768" y="257.4" width="60" height="35" fill="rgb(255,229,230)"/><rect x="786" y="269.4" width="26" height="9" fill="rgba(60,60,60,0.23777119351342965)"/><rect x="828" y="257.4" width="62" height="35" fill="rgb(255,255,255)"/><rect x="846" y="269.4" width="26" height="9" fill="rgba(60,60,60,0.22)"/><rect x="890" y="257.4" width="60" height="35" fill="rgb(253,232,237)"/><rect x="908" y="269.4" width="28" height="9" fill="#55557a" fill-opacity="0.55"/><rect x="30" y="304.2" width="51" height="9" fill="#cfcfcf"/><path d="M25 292.2 H950" stroke="#ececec" stroke-width="4"/><rect x="155" y="294.2" width="57" height="35" fill="rgb(255,234,234)"/><rect x="173" y="306.2" width="26" height="9" fill="rgba(60,60,60,0.234350846613265)"/><rect x="212" y="294.2" width="60" height="35" fill="rgb(255,199,201)"/><rect x="230" y="306.2" width="26" height="9" fill="rgba(60,60,60,0.25830924815855966)"/><rect x="272" y="294.2" width="60" height="35" fill="rgb(255,244,245)"/><rect x="290" y="306.2" width="26" height="9" fill="rgba(60,60,60,0.2270487091396148)"/><rect x="332" y="294.2" width="63" height="35" fill="rgb(255,241,241)"/><rect x="350" y="306.2" width="26" height="9" fill="rgba(60,60,60,0.22933344334723443)"/><rect x="395" y="294.2" width="65" height="35" fill="rgb(255,220,222)"/><rect x="413" y="306.2" width="26" height="9" fill="rgba(60,60,60,0.24356494014929023)"/><rect x="460" y="294.2" width="65" height="35" fill="rgb(255,254,254)"/><rect x="478" y="306.2" width="26" height="9" fill="rgba(60,60,60,0.22016374413540257)"/><rect x="525" y="294.2" width="60" height="35" fill="rgb(255,233,234)"/><rect x="543" y="306.2" width="26" height="9" fill="rgba(60,60,60,0.23477014291578902)"/><rect x="585" y="294.2" width="60" height="35" fill="rgb(255,199,201)"/><rect x="603" y="306.2" width="26" height="9" fill="rgba(60,60,60,0.2581239170210038)"/><rect x="645" y="294.2" width="60" height="35" fill="rgb(255,225,226)"/><rect x="663" y="306.2" width="26" height="9" fill="rgba(60,60,60,0.24061965732283114)"/><rect x="705" y="294.2" width="63" height="35" fill="rgb(255,243,243)"/><rect x="723" y="306.2" width="26" height="9" fill="rgba(60,60,60,0.228114400989394)"/><rect x="768" y="294.2" width="60" height="35" fill="rgb(255,202,204)"/><rect x="786" y="306.2" width="26" height="9" fill="rgba(60,60,60,0.2559813204023181)"/><rect x="828" y="294.2" width="62" height="35" fill="rgb(255,204,206)"/><rect x="846" y="306.2" width="26" height="9" fill="rgba(60,60,60,0.2549805273653791)"/><rect x="890" y="294.2" width="60" height="35" fill="rgb(247,223,229)"/><rect x="908" y="306.2" width="28" height="9" fill="#55557a" fill-opacity="0.55"/><rect x="30" y="341.0" width="45" height="9" fill="#cfcfcf"/><path d="M25 329.0 H950" stroke="#ececec" stroke-width="4"/><rect x="155" y="331.0" width="57" height="35" fill="rgb(255,195,198)"/><rect x="173" y="343.0" width="26" height="9" fill="rgba(60,60,60,0.26069515627565076)"/><rect x="212" y="331.0" width="60" height="35" fill="rgb(255,212,214)"/><rect x="230" y="343.0" width="26" height="9" fill="rgba(60,60,60,0.24914148374841297)"/><rect x="272" y="331.0" width="60" height="35" fill="rgb(255,243,243)"/><rect x="290" y="343.0" width="26" height="9" fill="rgba(60,60,60,0.22824697385942425)"/><rect x="332" y="331.0" width="63" height="35" fill="rgb(255,206,208)"/><rect x="350" y="343.0" width="26" height="9" fill="rgba(60,60,60,0.2533505274178466)"/><rect x="395" y="331.0" width="65" height="35" fill="rgb(255,238,238)"/><rect x="413" y="343.0" width="26" height="9" fill="rgba(60,60,60,0.2315806438267881)"/><rect x="460" y="331.0" width="65" height="35" fill="rgb(255,218,219)"/><rect x="478" y="343.0" width="26" height="9" fill="rgba(60,60,60,0.24500933127605426)"/><rect x="525" y="331.0" width="60" height="35" fill="rgb(255,212,214)"/><rect x="543" y="343.0" width="26" height="9" fill="rgba(60,60,60,0.24905857472090387)"/><rect x="585" y="331.0" width="60" height="35" fill="rgb(255,217,218)"/><rect x="603" y="343.0" width="26" height="9" fill="rgba(60,60,60,0.24602003546664583)"/><rect x="645" y="331.0" width="60" height="35" fill="rgb(255,183,185)"/><rect x="663" y="343.0" width="26" height="9" fill="rgba(60,60,60,0.2695627595115392)"/><rect x="705" y="331.0" width="63" height="35" fill="rgb(255,204,205)"/><rect x="723" y="343.0" width="26" height="9" fill="rgba(60,60,60,0.25509031026228307)"/><rect x="768" y="331.0" width="60" height="35" fill="rgb(255,197,199)"/><rect x="786" y="343.0" width="26" height="9" fill="rgba(60,60,60,0.2595665375811313)"/><rect x="828" y="331.0" width="62" height="35" fill="rgb(255,169,172)"/><rect x="846" y="343.0" width="26" height="9" fill="rgba(60,60,60,0.2789574770593846)"/><rect x="890" y="331.0" width="60" height="35" fill="rgb(237,208,215)"/><rect x="908" y="343.0" width="28" height="9" fill="#55557a" fill-opacity="0.55"/><rect x="30" y="377.79999999999995" width="74" height="9" fill="#cfcfcf"/><path d="M25 365.79999999999995 H950" stroke="#ececec" stroke-width="4"/><rect x="155" y="367.79999999999995" width="57" height="35" fill="rgb(255,235,235)"/><rect x="173" y="379.79999999999995" width="26" height="9" fill="rgba(60,60,60,0.23363957836639734)"/><rect x="212" y="367.79999999999995" width="60" height="35" fill="rgb(255,255,255)"/><rect x="230" y="379.79999999999995" width="26" height="9" fill="rgba(60,60,60,0.22)"/><rect x="272" y="367.79999999999995" width="60" height="35" fill="rgb(255,242,242)"/><rect x="290" y="379.79999999999995" width="26" height="9" fill="rgba(60,60,60,0.22870543352972006)"/><rect x="332" y="367.79999999999995" width="63" height="35" fill="rgb(255,214,215)"/><rect x="350" y="379.79999999999995" width="26" height="9" fill="rgba(60,60,60,0.24815421512486244)"/><rect x="395" y="367.79999999999995" width="65" height="35" fill="rgb(255,255,255)"/><rect x="413" y="379.79999999999995" width="26" height="9" fill="rgba(60,60,60,0.22)"/><rect x="460" y="367.79999999999995" width="65" height="35" fill="rgb(255,231,232)"/><rect x="478" y="379.79999999999995" width="26" height="9" fill="rgba(60,60,60,0.236130295801685)"/><rect x="525" y="367.79999999999995" width="60" height="35" fill="rgb(255,247,247)"/><rect x="543" y="379.79999999999995" width="26" height="9" fill="rgba(60,60,60,0.22501806911058536)"/><rect x="585" y="367.79999999999995" width="60" height="35" fill="rgb(255,231,232)"/><rect x="603" y="379.79999999999995" width="26" height="9" fill="rgba(60,60,60,0.23612437763753225)"/><rect x="645" y="367.79999999999995" width="60" height="35" fill="rgb(255,212,213)"/><rect x="663" y="379.79999999999995" width="26" height="9" fill="rgba(60,60,60,0.24953300121158675)"/><rect x="705" y="367.79999999999995" width="63" height="35" fill="rgb(255,247,247)"/><rect x="723" y="379.79999999999995" width="26" height="9" fill="rgba(60,60,60,0.22544460788917448)"/><rect x="768" y="367.79999999999995" width="60" height="35" fill="rgb(255,252,252)"/><rect x="786" y="379.79999999999995" width="26" height="9" fill="rgba(60,60,60,0.22168168138137345)"/><rect x="828" y="367.79999999999995" width="62" height="35" fill="rgb(255,231,232)"/><rect x="846" y="379.79999999999995" width="26" height="9" fill="rgba(60,60,60,0.23630369589971517)"/><rect x="890" y="367.79999999999995" width="60" height="35" fill="rgb(249,226,231)"/><rect x="908" y="379.79999999999995" width="28" height="9" fill="#55557a" fill-opacity="0.55"/><rect x="30" y="414.59999999999997" width="68" height="9" fill="#cfcfcf"/><path d="M25 402.59999999999997 H950" stroke="#ececec" stroke-width="4"/><rect x="155" y="404.59999999999997" width="57" height="35" fill="rgb(255,214,215)"/><rect x="173" y="416.59999999999997" width="26" height="9" fill="rgba(60,60,60,0.2481865998019105)"/><rect x="212" y="404.59999999999997" width="60" height="35" fill="rgb(255,186,188)"/><rect x="230" y="416.59999999999997" width="26" height="9" fill="rgba(60,60,60,0.2674604498709438)"/><rect x="272" y="404.59999999999997" width="60" height="35" fill="rgb(255,183,186)"/><rect x="290" y="416.59999999999997" width="26" height="9" fill="rgba(60,60,60,0.2691051519498664)"/><rect x="332" y="404.59999999999997" width="63" height="35" fill="rgb(255,185,188)"/><rect x="350" y="416.59999999999997" width="26" height="9" fill="rgba(60,60,60,0.26773331773301495)"/><rect x="395" y="404.59999999999997" width="65" height="35" fill="rgb(255,220,221)"/><rect x="413" y="416.59999999999997" width="26" height="9" fill="rgba(60,60,60,0.2440695796012634)"/><rect x="460" y="404.59999999999997" width="65" height="35" fill="rgb(255,242,242)"/><rect x="478" y="416.59999999999997" width="26" height="9" fill="rgba(60,60,60,0.2287667505202595)"/><rect x="525" y="404.59999999999997" width="60" height="35" fill="rgb(255,231,232)"/><rect x="543" y="416.59999999999997" width="26" height="9" fill="rgba(60,60,60,0.23611748301688257)"/><rect x="585" y="404.59999999999997" width="60" height="35" fill="rgb(255,218,219)"/><rect x="603" y="416.59999999999997" width="26" height="9" fill="rgba(60,60,60,0.24536697453071027)"/><rect x="645" y="404.59999999999997" width="60" height="35" fill="rgb(255,177,180)"/><rect x="663" y="416.59999999999997" width="26" height="9" fill="rgba(60,60,60,0.2732606030536535)"/><rect x="705" y="404.59999999999997" width="63" height="35" fill="rgb(255,178,181)"/><rect x="723" y="416.59999999999997" width="26" height="9" fill="rgba(60,60,60,0.27248084805104966)"/><rect x="768" y="404.59999999999997" width="60" height="35" fill="rgb(255,177,180)"/><rect x="786" y="416.59999999999997" width="26" height="9" fill="rgba(60,60,60,0.2732000252528533)"/><rect x="828" y="404.59999999999997" width="62" height="35" fill="rgb(255,220,221)"/><rect x="846" y="416.59999999999997" width="26" height="9" fill="rgba(60,60,60,0.2438184929198495)"/><rect x="890" y="404.59999999999997" width="60" height="35" fill="rgb(241,214,220)"/><rect x="908" y="416.59999999999997" width="28" height="9" fill="#55557a" fill-opacity="0.55"/><rect x="30" y="451.4" width="62" height="9" fill="#cfcfcf"/><path d="M25 439.4 H950" stroke="#ececec" stroke-width="4"/><rect x="155" y="441.4" width="57" height="35" fill="rgb(255,250,250)"/><rect x="173" y="453.4" width="26" height="9" fill="rgba(60,60,60,0.2228682465367727)"/><rect x="212" y="441.4" width="60" height="35" fill="rgb(255,226,227)"/><rect x="230" y="453.4" width="26" height="9" fill="rgba(60,60,60,0.23996265589751273)"/><rect x="272" y="441.4" width="60" height="35" fill="rgb(255,213,214)"/><rect x="290" y="453.4" width="26" height="9" fill="rgba(60,60,60,0.2486174210911716)"/><rect x="332" y="441.4" width="63" height="35" fill="rgb(255,224,225)"/><rect x="350" y="453.4" width="26" height="9" fill="rgba(60,60,60,0.24111912171364036)"/><rect x="395" y="441.4" width="65" height="35" fill="rgb(255,255,255)"/><rect x="413" y="453.4" width="26" height="9" fill="rgba(60,60,60,0.22)"/><rect x="460" y="441.4" width="65" height="35" fill="rgb(255,209,211)"/><rect x="478" y="453.4" width="26" height="9" fill="rgba(60,60,60,0.2513910855020689)"/><rect x="525" y="441.4" width="60" height="35" fill="rgb(255,218,219)"/><rect x="543" y="453.4" width="26" height="9" fill="rgba(60,60,60,0.24500561839321833)"/><rect x="585" y="441.4" width="60" height="35" fill="rgb(255,251,252)"/><rect x="603" y="453.4" width="26" height="9" fill="rgba(60,60,60,0.22214086873350294)"/><rect x="645" y="441.4" width="60" height="35" fill="rgb(255,242,243)"/><rect x="663" y="453.4" width="26" height="9" fill="rgba(60,60,60,0.2283006879945844)"/><rect x="705" y="441.4" width="63" height="35" fill="rgb(255,205,207)"/><rect x="723" y="453.4" width="26" height="9" fill="rgba(60,60,60,0.2538662915592863)"/><rect x="768" y="441.4" width="60" height="35" fill="rgb(255,238,239)"/><rect x="786" y="453.4" width="26" height="9" fill="rgba(60,60,60,0.23105547271470805)"/><rect x="828" y="441.4" width="62" height="35" fill="rgb(255,220,221)"/><rect x="846" y="453.4" width="26" height="9" fill="rgba(60,60,60,0.2439919466253686)"/><rect x="890" y="441.4" width="60" height="35" fill="rgb(249,226,231)"/><rect x="908" y="453.4" width="28" height="9" fill="#55557a" fill-opacity="0.55"/><rect x="30" y="488.2" width="56" height="9" fill="#cfcfcf"/><path d="M25 476.2 H950" stroke="#ececec" stroke-width="4"/><rect x="155" y="478.2" width="57" height="35" fill="rgb(255,254,254)"/><rect x="173" y="490.2" width="26" height="9" fill="rgba(60,60,60,0.22008153469191458)"/><rect x="212" y="478.2" width="60" height="35" fill="rgb(255,209,211)"/><rect x="230" y="490.2" width="26" height="9" fill="rgba(60,60,60,0.25119408382932956)"/><rect x="272" y="478.2" width="60" height="35" fill="rgb(255,253,253)"/><rect x="290" y="490.2" width="26" height="9" fill="rgba(60,60,60,0.22084697234975498)"/><rect x="332" y="478.2" width="63" height="35" fill="rgb(255,205,207)"/><rect x="350" y="490.2" width="26" height="9" fill="rgba(60,60,60,0.2542122377378812)"/><rect x="395" y="478.2" width="65" height="35" fill="rgb(255,241,242)"/><rect x="413" y="490.2" width="26" height="9" fill="rgba(60,60,60,0.22901630048630012)"/><rect x="460" y="478.2" width="65" height="35" fill="rgb(255,254,254)"/><rect x="478" y="490.2" width="26" height="9" fill="rgba(60,60,60,0.2200718062241134)"/><rect x="525" y="478.2" width="60" height="35" fill="rgb(255,205,207)"/><rect x="543" y="490.2" width="26" height="9" fill="rgba(60,60,60,0.2538356070895106)"/><rect x="585" y="478.2" width="60" height="35" fill="rgb(255,231,232)"/><rect x="603" y="490.2" width="26" height="9" fill="rgba(60,60,60,0.23606324188396222)"/><rect x="645" y="478.2" width="60" height="35" fill="rgb(255,237,237)"/><rect x="663" y="490.2" width="26" height="9" fill="rgba(60,60,60,0.23235237747029944)"/><rect x="705" y="478.2" width="63" height="35" fill="rgb(255,214,215)"/><rect x="723" y="490.2" width="26" height="9" fill="rgba(60,60,60,0.24804621007260885)"/><rect x="768" y="478.2" width="60" height="35" fill="rgb(255,247,247)"/><rect x="786" y="490.2" width="26" height="9" fill="rgba(60,60,60,0.22507339245461816)"/><rect x="828" y="478.2" width="62" height="35" fill="rgb(255,248,248)"/><rect x="846" y="490.2" width="26" height="9" fill="rgba(60,60,60,0.22462157570233338)"/><rect x="890" y="478.2" width="60" height="35" fill="rgb(249,226,231)"/><rect x="908" y="490.2" width="28" height="9" fill="#55557a" fill-opacity="0.55"/><rect x="30" y="525.0" width="50" height="9" fill="#cfcfcf"/><path d="M25 513.0 H950" stroke="#ececec" stroke-width="4"/><rect x="155" y="515.0" width="57" height="35" fill="rgb(255,232,233)"/><rect x="173" y="527.0" width="26" height="9" fill="rgba(60,60,60,0.23537459181080841)"/><rect x="212" y="515.0" width="60" height="35" fill="rgb(255,240,240)"/><rect x="230" y="527.0" width="26" height="9" fill="rgba(60,60,60,0.23024294706013934)"/><rect x="272" y="515.0" width="60" height="35" fill="rgb(255,227,228)"/><rect x="290" y="527.0" width="26" height="9" fill="rgba(60,60,60,0.23915136095813036)"/><rect x="332" y="515.0" width="63" height="35" fill="rgb(255,213,215)"/><rect x="350" y="527.0" width="26" height="9" fill="rgba(60,60,60,0.248333950881674)"/><rect x="395" y="515.0" width="65" height="35" fill="rgb(255,223,224)"/><rect x="413" y="527.0" width="26" height="9" fill="rgba(60,60,60,0.2418251308283626)"/><rect x="460" y="515.0" width="65" height="35" fill="rgb(255,218,219)"/><rect x="478" y="527.0" width="26" height="9" fill="rgba(60,60,60,0.24506595764480926)"/><rect x="525" y="515.0" width="60" height="35" fill="rgb(255,243,244)"/><rect x="543" y="527.0" width="26" height="9" fill="rgba(60,60,60,0.227782079027046)"/><rect x="585" y="515.0" width="60" height="35" fill="rgb(255,222,223)"/><rect x="603" y="527.0" width="26" height="9" fill="rgba(60,60,60,0.24260499649539774)"/><rect x="645" y="515.0" width="60" height="35" fill="rgb(255,247,247)"/><rect x="663" y="527.0" width="26" height="9" fill="rgba(60,60,60,0.2251572992730257)"/><rect x="705" y="515.0" width="63" height="35" fill="rgb(255,237,238)"/><rect x="723" y="527.0" width="26" height="9" fill="rgba(60,60,60,0.23189386848853796)"/><rect x="768" y="515.0" width="60" height="35" fill="rgb(255,205,207)"/><rect x="786" y="527.0" width="26" height="9" fill="rgba(60,60,60,0.2540077308178951)"/><rect x="828" y="515.0" width="62" height="35" fill="rgb(255,228,229)"/><rect x="846" y="527.0" width="26" height="9" fill="rgba(60,60,60,0.23803928604195457)"/><rect x="890" y="515.0" width="60" height="35" fill="rgb(245,220,226)"/><rect x="908" y="527.0" width="28" height="9" fill="#55557a" fill-opacity="0.55"/><rect x="30" y="561.8" width="44" height="9" fill="#cfcfcf"/><path d="M25 549.8 H950" stroke="#ececec" stroke-width="4"/><rect x="155" y="551.8" width="57" height="35" fill="rgb(255,179,181)"/><rect x="173" y="563.8" width="26" height="9" fill="rgba(60,60,60,0.2722176749952099)"/><rect x="212" y="551.8" width="60" height="35" fill="rgb(255,205,207)"/><rect x="230" y="563.8" width="26" height="9" fill="rgba(60,60,60,0.25424437668419714)"/><rect x="272" y="551.8" width="60" height="35" fill="rgb(255,197,199)"/><rect x="290" y="563.8" width="26" height="9" fill="rgba(60,60,60,0.2599397728417236)"/><rect x="332" y="551.8" width="63" height="35" fill="rgb(255,166,169)"/><rect x="350" y="563.8" width="26" height="9" fill="rgba(60,60,60,0.28089044395021956)"/><rect x="395" y="551.8" width="65" height="35" fill="rgb(255,178,181)"/><rect x="413" y="563.8" width="26" height="9" fill="rgba(60,60,60,0.27246917546625904)"/><rect x="460" y="551.8" width="65" height="35" fill="rgb(255,158,161)"/><rect x="478" y="563.8" width="26" height="9" fill="rgba(60,60,60,0.28649952145319246)"/><rect x="525" y="551.8" width="60" height="35" fill="rgb(255,175,178)"/><rect x="543" y="563.8" width="26" height="9" fill="rgba(60,60,60,0.2745011153737784)"/><rect x="585" y="551.8" width="60" height="35" fill="rgb(255,181,184)"/><rect x="603" y="563.8" width="26" height="9" fill="rgba(60,60,60,0.2704864588974128)"/><rect x="645" y="551.8" width="60" height="35" fill="rgb(255,185,187)"/><rect x="663" y="563.8" width="26" height="9" fill="rgba(60,60,60,0.2680938316905964)"/><rect x="705" y="551.8" width="63" height="35" fill="rgb(255,183,186)"/><rect x="723" y="563.8" width="26" height="9" fill="rgba(60,60,60,0.2691214527212834)"/><rect x="768" y="551.8" width="60" height="35" fill="rgb(255,170,173)"/><rect x="786" y="563.8" width="26" height="9" fill="rgba(60,60,60,0.27796871528721145)"/><rect x="828" y="551.8" width="62" height="35" fill="rgb(255,156,160)"/><rect x="846" y="563.8" width="26" height="9" fill="rgba(60,60,60,0.28768722353214304)"/><rect x="890" y="551.8" width="60" height="35" fill="rgb(235,205,212)"/><rect x="908" y="563.8" width="28" height="9" fill="#55557a" fill-opacity="0.55"/><rect x="30" y="598.5999999999999" width="73" height="9" fill="#cfcfcf"/><path d="M25 586.5999999999999 H950" stroke="#ececec" stroke-width="4"/><rect x="155" y="588.5999999999999" width="57" height="35" fill="rgb(255,229,230)"/><rect x="173" y="600.5999999999999" width="26" height="9" fill="rgba(60,60,60,0.2373805522599086)"/><rect x="212" y="588.5999999999999" width="60" height="35" fill="rgb(255,213,214)"/><rect x="230" y="600.5999999999999" width="26" height="9" fill="rgba(60,60,60,0.24859999133572824)"/><rect x="272" y="588.5999999999999" width="60" height="35" fill="rgb(255,255,255)"/><rect x="290" y="600.5999999999999" width="26" height="9" fill="rgba(60,60,60,0.22)"/><rect x="332" y="588.5999999999999" width="63" height="35" fill="rgb(255,255,255)"/><rect x="350" y="600.5999999999999" width="26" height="9" fill="rgba(60,60,60,0.22)"/><rect x="395" y="588.5999999999999" width="65" height="35" fill="rgb(255,255,255)"/><rect x="413" y="600.5999999999999" width="26" height="9" fill="rgba(60,60,60,0.22)"/><rect x="460" y="588.5999999999999" width="65" height="35" fill="rgb(255,216,218)"/><rect x="478" y="600.5999999999999" width="26" height="9" fill="rgba(60,60,60,0.24635744068692622)"/><rect x="525" y="588.5999999999999" width="60" height="35" fill="rgb(255,253,253)"/><rect x="543" y="600.5999999999999" width="26" height="9" fill="rgba(60,60,60,0.22117786495074768)"/><rect x="585" y="588.5999999999999" width="60" height="35" fill="rgb(255,223,225)"/><rect x="603" y="600.5999999999999" width="26" height="9" fill="rgba(60,60,60,0.24141026060765483)"/><rect x="645" y="588.5999999999999" width="60" height="35" fill="rgb(255,211,212)"/><rect x="663" y="600.5999999999999" width="26" height="9" fill="rgba(60,60,60,0.25031331334628304)"/><rect x="705" y="588.5999999999999" width="63" height="35" fill="rgb(255,249,249)"/><rect x="723" y="600.5999999999999" width="26" height="9" fill="rgba(60,60,60,0.2237835132320768)"/><rect x="768" y="588.5999999999999" width="60" height="35" fill="rgb(255,239,239)"/><rect x="786" y="600.5999999999999" width="26" height="9" fill="rgba(60,60,60,0.23093027498869087)"/><rect x="828" y="588.5999999999999" width="62" height="35" fill="rgb(255,204,206)"/><rect x="846" y="600.5999999999999" width="26" height="9" fill="rgba(60,60,60,0.25459485818977146)"/><rect x="890" y="588.5999999999999" width="60" height="35" fill="rgb(249,226,231)"/><rect x="908" y="600.5999999999999" width="28" height="9" fill="#55557a" fill-opacity="0.55"/><rect x="30" y="635.4" width="67" height="9" fill="#cfcfcf"/><path d="M25 623.4 H950" stroke="#ececec" stroke-width="4"/><rect x="155" y="625.4" width="57" height="35" fill="rgb(255,223,224)"/><rect x="173" y="637.4" width="26" height="9" fill="rgba(60,60,60,0.24145864239523518)"/><rect x="212" y="625.4" width="60" height="35" fill="rgb(255,203,205)"/><rect x="230" y="637.4" width="26" height="9" fill="rgba(60,60,60,0.25562420231217436)"/><rect x="272" y="625.4" width="60" height="35" fill="rgb(255,221,223)"/><rect x="290" y="637.4" width="26" height="9" fill="rgba(60,60,60,0.24282978664535726)"/><rect x="332" y="625.4" width="63" height="35" fill="rgb(255,235,236)"/><rect x="350" y="637.4" width="26" height="9" fill="rgba(60,60,60,0.23316581002169423)"/><rect x="395" y="625.4" width="65" height="35" fill="rgb(255,201,202)"/><rect x="413" y="637.4" width="26" height="9" fill="rgba(60,60,60,0.2571620099123331)"/><rect x="460" y="625.4" width="65" height="35" fill="rgb(255,232,232)"/><rect x="478" y="637.4" width="26" height="9" fill="rgba(60,60,60,0.2357232792330815)"/><rect x="525" y="625.4" width="60" height="35" fill="rgb(255,197,199)"/><rect x="543" y="637.4" width="26" height="9" fill="rgba(60,60,60,0.25995708295567455)"/><rect x="585" y="625.4" width="60" height="35" fill="rgb(255,229,230)"/><rect x="603" y="637.4" width="26" height="9" fill="rgba(60,60,60,0.23757163170363008)"/><rect x="645" y="625.4" width="60" height="35" fill="rgb(255,187,189)"/><rect x="663" y="637.4" width="26" height="9" fill="rgba(60,60,60,0.2665345222439032)"/><rect x="705" y="625.4" width="63" height="35" fill="rgb(255,227,228)"/><rect x="723" y="637.4" width="26" height="9" fill="rgba(60,60,60,0.23919118377091325)"/><rect x="768" y="625.4" width="60" height="35" fill="rgb(255,230,231)"/><rect x="786" y="637.4" width="26" height="9" fill="rgba(60,60,60,0.2365835275965627)"/><rect x="828" y="625.4" width="62" height="35" fill="rgb(255,217,218)"/><rect x="846" y="637.4" width="26" height="9" fill="rgba(60,60,60,0.24581784390085237)"/><rect x="890" y="625.4" width="60" height="35" fill="rgb(241,214,220)"/><rect x="908" y="637.4" width="28" height="9" fill="#55557a" fill-opacity="0.55"/><rect x="30" y="672.1999999999999" width="61" height="9" fill="#cfcfcf"/><path d="M25 660.1999999999999 H950" stroke="#ececec" stroke-width="4"/><rect x="155" y="662.1999999999999" width="57" height="35" fill="rgb(255,216,217)"/><rect x="173" y="674.1999999999999" width="26" height="9" fill="rgba(60,60,60,0.24689016725110646)"/><rect x="212" y="662.1999999999999" width="60" height="35" fill="rgb(255,192,195)"/><rect x="230" y="674.1999999999999" width="26" height="9" fill="rgba(60,60,60,0.26275915919125126)"/><rect x="272" y="662.1999999999999" width="60" height="35" fill="rgb(255,231,232)"/><rect x="290" y="674.1999999999999" width="26" height="9" fill="rgba(60,60,60,0.23597471789616312)"/><rect x="332" y="662.1999999999999" width="63" height="35" fill="rgb(255,207,209)"/><rect x="350" y="674.1999999999999" width="26" height="9" fill="rgba(60,60,60,0.25282379701573016)"/><rect x="395" y="662.1999999999999" width="65" height="35" fill="rgb(255,249,249)"/><rect x="413" y="674.1999999999999" width="26" height="9" fill="rgba(60,60,60,0.2240735464941617)"/><rect x="460" y="662.1999999999999" width="65" height="35" fill="rgb(255,200,202)"/><rect x="478" y="674.1999999999999" width="26" height="9" fill="rgba(60,60,60,0.25752822285394195)"/><rect x="525" y="662.1999999999999" width="60" height="35" fill="rgb(255,236,236)"/><rect x="543" y="674.1999999999999" width="26" height="9" fill="rgba(60,60,60,0.23289656378892762)"/><rect x="585" y="662.1999999999999" width="60" height="35" fill="rgb(255,203,205)"/><rect x="603" y="674.1999999999999" width="26" height="9" fill="rgba(60,60,60,0.25537758025186236)"/><rect x="645" y="662.1999999999999" width="60" height="35" fill="rgb(255,235,236)"/><rect x="663" y="674.1999999999999" width="26" height="9" fill="rgba(60,60,60,0.23334970104938071)"/><rect x="705" y="662.1999999999999" width="63" height="35" fill="rgb(255,236,237)"/><rect x="723" y="674.1999999999999" width="26" height="9" fill="rgba(60,60,60,0.23266490139497845)"/><rect x="768" y="662.1999999999999" width="60" height="35" fill="rgb(255,214,215)"/><rect x="786" y="674.1999999999999" width="26" height="9" fill="rgba(60,60,60,0.248150940838917)"/><rect x="828" y="662.1999999999999" width="62" height="35" fill="rgb(255,208,210)"/><rect x="846" y="674.1999999999999" width="26" height="9" fill="rgba(60,60,60,0.2521225647383214)"/><rect x="890" y="662.1999999999999" width="60" height="35" fill="rgb(243,217,223)"/><rect x="908" y="674.1999999999999" width="28" height="9" fill="#55557a" fill-opacity="0.55"/><rect x="30" y="709.0" width="55" height="9" fill="#cfcfcf"/><path d="M25 697.0 H950" stroke="#ececec" stroke-width="4"/><rect x="155" y="699.0" width="57" height="35" fill="rgb(255,174,176)"/><rect x="173" y="711.0" width="26" height="9" fill="rgba(60,60,60,0.2757143898670982)"/><rect x="212" y="699.0" width="60" height="35" fill="rgb(255,159,162)"/><rect x="230" y="711.0" width="26" height="9" fill="rgba(60,60,60,0.2860766010610869)"/><rect x="272" y="699.0" width="60" height="35" fill="rgb(255,183,185)"/><rect x="290" y="711.0" width="26" height="9" fill="rgba(60,60,60,0.2693780586031714)"/><rect x="332" y="699.0" width="63" height="35" fill="rgb(255,186,189)"/><rect x="350" y="711.0" width="26" height="9" fill="rgba(60,60,60,0.2670151886883813)"/><rect x="395" y="699.0" width="65" height="35" fill="rgb(255,171,174)"/><rect x="413" y="711.0" width="26" height="9" fill="rgba(60,60,60,0.27747969616313906)"/><rect x="460" y="699.0" width="65" height="35" fill="rgb(255,145,149)"/><rect x="478" y="711.0" width="26" height="9" fill="rgba(60,60,60,0.29537993019994246)"/><rect x="525" y="699.0" width="60" height="35" fill="rgb(255,160,163)"/><rect x="543" y="711.0" width="26" height="9" fill="rgba(60,60,60,0.2850035439944736)"/><rect x="585" y="699.0" width="60" height="35" fill="rgb(255,229,230)"/><rect x="603" y="711.0" width="26" height="9" fill="rgba(60,60,60,0.2376640122655343)"/><rect x="645" y="699.0" width="60" height="35" fill="rgb(255,231,231)"/><rect x="663" y="711.0" width="26" height="9" fill="rgba(60,60,60,0.23650538507434274)"/><rect x="705" y="699.0" width="63" height="35" fill="rgb(255,147,150)"/><rect x="723" y="711.0" width="26" height="9" fill="rgba(60,60,60,0.29432321533729255)"/><rect x="768" y="699.0" width="60" height="35" fill="rgb(255,178,181)"/><rect x="786" y="711.0" width="26" height="9" fill="rgba(60,60,60,0.27257825985975115)"/><rect x="828" y="699.0" width="62" height="35" fill="rgb(255,219,220)"/><rect x="846" y="711.0" width="26" height="9" fill="rgba(60,60,60,0.24471571407738824)"/><rect x="890" y="699.0" width="60" height="35" fill="rgb(229,196,204)"/><rect x="908" y="711.0" width="28" height="9" fill="#55557a" fill-opacity="0.55"/><rect x="30" y="745.8" width="49" height="9" fill="#cfcfcf"/><path d="M25 733.8 H950" stroke="#ececec" stroke-width="4"/><rect x="155" y="735.8" width="57" height="35" fill="rgb(255,229,230)"/><rect x="173" y="747.8" width="26" height="9" fill="rgba(60,60,60,0.23775680561366855)"/><rect x="212" y="735.8" width="60" height="35" fill="rgb(255,248,248)"/><rect x="230" y="747.8" width="26" height="9" fill="rgba(60,60,60,0.22480006293830462)"/><rect x="272" y="735.8" width="60" height="35" fill="rgb(255,253,253)"/><rect x="290" y="747.8" width="26" height="9" fill="rgba(60,60,60,0.22072344302246344)"/><rect x="332" y="735.8" width="63" height="35" fill="rgb(255,236,237)"/><rect x="350" y="747.8" width="26" height="9" fill="rgba(60,60,60,0.23250966942762766)"/><rect x="395" y="735.8" width="65" height="35" fill="rgb(255,255,255)"/><rect x="413" y="747.8" width="26" height="9" fill="rgba(60,60,60,0.22)"/><rect x="460" y="735.8" width="65" height="35" fill="rgb(255,235,236)"/><rect x="478" y="747.8" width="26" height="9" fill="rgba(60,60,60,0.23326901606584913)"/><rect x="525" y="735.8" width="60" height="35" fill="rgb(255,253,253)"/><rect x="543" y="747.8" width="26" height="9" fill="rgba(60,60,60,0.22118790834827365)"/><rect x="585" y="735.8" width="60" height="35" fill="rgb(255,255,255)"/><rect x="603" y="747.8" width="26" height="9" fill="rgba(60,60,60,0.22)"/><rect x="645" y="735.8" width="60" height="35" fill="rgb(255,255,255)"/><rect x="663" y="747.8" width="26" height="9" fill="rgba(60,60,60,0.22)"/><rect x="705" y="735.8" width="63" height="35" fill="rgb(255,255,255)"/><rect x="723" y="747.8" width="26" height="9" fill="rgba(60,60,60,0.22)"/><rect x="768" y="735.8" width="60" height="35" fill="rgb(255,255,255)"/><rect x="786" y="747.8" width="26" height="9" fill="rgba(60,60,60,0.22)"/><rect x="828" y="735.8" width="62" height="35" fill="rgb(255,226,227)"/><rect x="846" y="747.8" width="26" height="9" fill="rgba(60,60,60,0.23982151284990993)"/><rect x="890" y="735.8" width="60" height="35" fill="rgb(253,232,237)"/><rect x="908" y="747.8" width="28" height="9" fill="#55557a" fill-opacity="0.55"/><rect x="30" y="782.5999999999999" width="43" height="9" fill="#cfcfcf"/><path d="M25 770.5999999999999 H950" stroke="#ececec" stroke-width="4"/><rect x="155" y="772.5999999999999" width="57" height="35" fill="rgb(255,209,211)"/><rect x="173" y="784.5999999999999" width="26" height="9" fill="rgba(60,60,60,0.2512773312922652)"/><rect x="212" y="772.5999999999999" width="60" height="35" fill="rgb(255,209,210)"/><rect x="230" y="784.5999999999999" width="26" height="9" fill="rgba(60,60,60,0.25172233970321345)"/><rect x="272" y="772.5999999999999" width="60" height="35" fill="rgb(255,216,218)"/><rect x="290" y="784.5999999999999" width="26" height="9" fill="rgba(60,60,60,0.24630131759316823)"/><rect x="332" y="772.5999999999999" width="63" height="35" fill="rgb(255,210,212)"/><rect x="350" y="784.5999999999999" width="26" height="9" fill="rgba(60,60,60,0.2505297226798956)"/><rect x="395" y="772.5999999999999" width="65" height="35" fill="rgb(255,169,172)"/><rect x="413" y="784.5999999999999" width="26" height="9" fill="rgba(60,60,60,0.27890491991785504)"/><rect x="460" y="772.5999999999999" width="65" height="35" fill="rgb(255,211,213)"/><rect x="478" y="784.5999999999999" width="26" height="9" fill="rgba(60,60,60,0.24977785975767575)"/><rect x="525" y="772.5999999999999" width="60" height="35" fill="rgb(255,208,209)"/><rect x="543" y="784.5999999999999" width="26" height="9" fill="rgba(60,60,60,0.2523819167071181)"/><rect x="585" y="772.5999999999999" width="60" height="35" fill="rgb(255,225,226)"/><rect x="603" y="784.5999999999999" width="26" height="9" fill="rgba(60,60,60,0.24004275659779692)"/><rect x="645" y="772.5999999999999" width="60" height="35" fill="rgb(255,198,200)"/><rect x="663" y="784.5999999999999" width="26" height="9" fill="rgba(60,60,60,0.25898574509588745)"/><rect x="705" y="772.5999999999999" width="63" height="35" fill="rgb(255,214,215)"/><rect x="723" y="784.5999999999999" width="26" height="9" fill="rgba(60,60,60,0.2480392021680413)"/><rect x="768" y="772.5999999999999" width="60" height="35" fill="rgb(255,225,226)"/><rect x="786" y="784.5999999999999" width="26" height="9" fill="rgba(60,60,60,0.24019802126015774)"/><rect x="828" y="772.5999999999999" width="62" height="35" fill="rgb(255,220,221)"/><rect x="846" y="784.5999999999999" width="26" height="9" fill="rgba(60,60,60,0.2435901359152392)"/><rect x="890" y="772.5999999999999" width="60" height="35" fill="rgb(239,211,218)"/><rect x="908" y="784.5999999999999" width="28" height="9" fill="#55557a" fill-opacity="0.55"/><rect x="30" y="819.4" width="72" height="9" fill="#cfcfcf"/><path d="M25 807.4 H950" stroke="#ececec" stroke-width="4"/><rect x="155" y="809.4" width="57" height="35" fill="rgb(255,252,252)"/><rect x="173" y="821.4" width="26" height="9" fill="rgba(60,60,60,0.22200000349229385)"/><rect x="212" y="809.4" width="60" height="35" fill="rgb(255,230,230)"/><rect x="230" y="821.4" width="26" height="9" fill="rgba(60,60,60,0.23716978240897355)"/><rect x="272" y="809.4" width="60" height="35" fill="rgb(255,213,215)"/><rect x="290" y="821.4" width="26" height="9" fill="rgba(60,60,60,0.24842333136726535)"/><rect x="332" y="809.4" width="63" height="35" fill="rgb(255,204,205)"/><rect x="350" y="821.4" width="26" height="9" fill="rgba(60,60,60,0.2550216252074397)"/><rect x="395" y="809.4" width="65" height="35" fill="rgb(255,206,207)"/><rect x="413" y="821.4" width="26" height="9" fill="rgba(60,60,60,0.25363973760129244)"/><rect x="460" y="809.4" width="65" height="35" fill="rgb(255,225,226)"/><rect x="478" y="821.4" width="26" height="9" fill="rgba(60,60,60,0.240580658842418)"/><rect x="525" y="809.4" width="60" height="35" fill="rgb(255,190,192)"/><rect x="543" y="821.4" width="26" height="9" fill="rgba(60,60,60,0.26438916340297186)"/><rect x="585" y="809.4" width="60" height="35" fill="rgb(255,205,207)"/><rect x="603" y="821.4" width="26" height="9" fill="rgba(60,60,60,0.253966230934473)"/><rect x="645" y="809.4" width="60" height="35" fill="rgb(255,245,245)"/><rect x="663" y="821.4" width="26" height="9" fill="rgba(60,60,60,0.22675152266766344)"/><rect x="705" y="809.4" width="63" height="35" fill="rgb(255,196,198)"/><rect x="723" y="821.4" width="26" height="9" fill="rgba(60,60,60,0.2606776942351404)"/><rect x="768" y="809.4" width="60" height="35" fill="rgb(255,205,206)"/><rect x="786" y="821.4" width="26" height="9" fill="rgba(60,60,60,0.25435408493907846)"/><rect x="828" y="809.4" width="62" height="35" fill="rgb(255,239,240)"/><rect x="846" y="821.4" width="26" height="9" fill="rgba(60,60,60,0.23057230440076817)"/><rect x="890" y="809.4" width="60" height="35" fill="rgb(245,220,226)"/><rect x="908" y="821.4" width="28" height="9" fill="#55557a" fill-opacity="0.55"/><rect x="30" y="856.1999999999999" width="66" height="9" fill="#cfcfcf"/><path d="M25 844.1999999999999 H950" stroke="#ececec" stroke-width="4"/><rect x="155" y="846.1999999999999" width="57" height="35" fill="rgb(255,138,142)"/><rect x="173" y="858.1999999999999" width="26" height="9" fill="rgba(60,60,60,0.30017484205021844)"/><rect x="212" y="846.1999999999999" width="60" height="35" fill="rgb(255,121,125)"/><rect x="230" y="858.1999999999999" width="26" height="9" fill="rgba(60,60,60,0.3121871042299509)"/><rect x="272" y="846.1999999999999" width="60" height="35" fill="rgb(255,134,138)"/><rect x="290" y="858.1999999999999" width="26" height="9" fill="rgba(60,60,60,0.3033624606722496)"/><rect x="332" y="846.1999999999999" width="63" height="35" fill="rgb(255,128,132)"/><rect x="350" y="858.1999999999999" width="26" height="9" fill="rgba(60,60,60,0.30731581478002)"/><rect x="395" y="846.1999999999999" width="65" height="35" fill="rgb(255,224,225)"/><rect x="413" y="858.1999999999999" width="26" height="9" fill="rgba(60,60,60,0.24075928864643797)"/><rect x="460" y="846.1999999999999" width="65" height="35" fill="rgb(255,160,163)"/><rect x="478" y="858.1999999999999" width="26" height="9" fill="rgba(60,60,60,0.2853237279168129)"/><rect x="525" y="846.1999999999999" width="60" height="35" fill="rgb(255,161,165)"/><rect x="543" y="858.1999999999999" width="26" height="9" fill="rgba(60,60,60,0.2841966588427479)"/><rect x="585" y="846.1999999999999" width="60" height="35" fill="rgb(255,135,139)"/><rect x="603" y="858.1999999999999" width="26" height="9" fill="rgba(60,60,60,0.30234108985983743)"/><rect x="645" y="846.1999999999999" width="60" height="35" fill="rgb(255,131,135)"/><rect x="663" y="858.1999999999999" width="26" height="9" fill="rgba(60,60,60,0.30504905835731144)"/><rect x="705" y="846.1999999999999" width="63" height="35" fill="rgb(255,220,221)"/><rect x="723" y="858.1999999999999" width="26" height="9" fill="rgba(60,60,60,0.24387153177831705)"/><rect x="768" y="846.1999999999999" width="60" height="35" fill="rgb(255,121,126)"/><rect x="786" y="858.1999999999999" width="26" height="9" fill="rgba(60,60,60,0.31190790208283414)"/><rect x="828" y="846.1999999999999" width="62" height="35" fill="rgb(255,138,142)"/><rect x="846" y="858.1999999999999" width="26" height="9" fill="rgba(60,60,60,0.30011884209449813)"/><rect x="890" y="846.1999999999999" width="60" height="35" fill="rgb(223,187,196)"/><rect x="908" y="858.1999999999999" width="28" height="9" fill="#55557a" fill-opacity="0.55"/><rect x="30" y="893.0" width="60" height="9" fill="#cfcfcf"/><path d="M25 881.0 H950" stroke="#ececec" stroke-width="4"/><rect x="155" y="883.0" width="57" height="35" fill="rgb(255,245,246)"/><rect x="173" y="895.0" width="26" height="9" fill="rgba(60,60,60,0.2264115938716522)"/><rect x="212" y="883.0" width="60" height="35" fill="rgb(255,219,220)"/><rect x="230" y="895.0" width="26" height="9" fill="rgba(60,60,60,0.24447153314169)"/><rect x="272" y="883.0" width="60" height="35" fill="rgb(255,255,255)"/><rect x="290" y="895.0" width="26" height="9" fill="rgba(60,60,60,0.22)"/><rect x="332" y="883.0" width="63" height="35" fill="rgb(255,219,221)"/><rect x="350" y="895.0" width="26" height="9" fill="rgba(60,60,60,0.24417340152157588)"/><rect x="395" y="883.0" width="65" height="35" fill="rgb(255,219,220)"/><rect x="413" y="895.0" width="26" height="9" fill="rgba(60,60,60,0.24459314365682966)"/><rect x="460" y="883.0" width="65" height="35" fill="rgb(255,233,234)"/><rect x="478" y="895.0" width="26" height="9" fill="rgba(60,60,60,0.2347579511539731)"/><rect x="525" y="883.0" width="60" height="35" fill="rgb(255,234,235)"/><rect x="543" y="895.0" width="26" height="9" fill="rgba(60,60,60,0.23416040656282505)"/><rect x="585" y="883.0" width="60" height="35" fill="rgb(255,217,219)"/><rect x="603" y="895.0" width="26" height="9" fill="rgba(60,60,60,0.24567880423270091)"/><rect x="645" y="883.0" width="60" height="35" fill="rgb(255,245,246)"/><rect x="663" y="895.0" width="26" height="9" fill="rgba(60,60,60,0.22621315570458383)"/><rect x="705" y="883.0" width="63" height="35" fill="rgb(255,253,253)"/><rect x="723" y="895.0" width="26" height="9" fill="rgba(60,60,60,0.2208970029150763)"/><rect x="768" y="883.0" width="60" height="35" fill="rgb(255,219,220)"/><rect x="786" y="895.0" width="26" height="9" fill="rgba(60,60,60,0.24472869029429162)"/><rect x="828" y="883.0" width="62" height="35" fill="rgb(255,247,247)"/><rect x="846" y="895.0" width="26" height="9" fill="rgba(60,60,60,0.2253131403744317)"/><rect x="890" y="883.0" width="60" height="35" fill="rgb(249,226,231)"/><rect x="908" y="895.0" width="28" height="9" fill="#55557a" fill-opacity="0.55"/><rect x="30" y="929.8" width="54" height="9" fill="#cfcfcf"/><path d="M25 917.8 H950" stroke="#ececec" stroke-width="4"/><rect x="155" y="919.8" width="57" height="35" fill="rgb(255,255,255)"/><rect x="173" y="931.8" width="26" height="9" fill="rgba(60,60,60,0.22)"/><rect x="212" y="919.8" width="60" height="35" fill="rgb(255,230,231)"/><rect x="230" y="931.8" width="26" height="9" fill="rgba(60,60,60,0.23688006314620944)"/><rect x="272" y="919.8" width="60" height="35" fill="rgb(255,230,231)"/><rect x="290" y="931.8" width="26" height="9" fill="rgba(60,60,60,0.23702830627251098)"/><rect x="332" y="919.8" width="63" height="35" fill="rgb(255,239,240)"/><rect x="350" y="931.8" width="26" height="9" fill="rgba(60,60,60,0.2306614277617763)"/><rect x="395" y="919.8" width="65" height="35" fill="rgb(255,251,251)"/><rect x="413" y="931.8" width="26" height="9" fill="rgba(60,60,60,0.22259606985156266)"/><rect x="460" y="919.8" width="65" height="35" fill="rgb(255,217,218)"/><rect x="478" y="931.8" width="26" height="9" fill="rgba(60,60,60,0.2457465170470108)"/><rect x="525" y="919.8" width="60" height="35" fill="rgb(255,212,214)"/><rect x="543" y="931.8" width="26" height="9" fill="rgba(60,60,60,0.2491250294702811)"/><rect x="585" y="919.8" width="60" height="35" fill="rgb(255,255,255)"/><rect x="603" y="931.8" width="26" height="9" fill="rgba(60,60,60,0.22)"/><rect x="645" y="919.8" width="60" height="35" fill="rgb(255,221,223)"/><rect x="663" y="931.8" width="26" height="9" fill="rgba(60,60,60,0.24279590770799472)"/><rect x="705" y="919.8" width="63" height="35" fill="rgb(255,243,243)"/><rect x="723" y="931.8" width="26" height="9" fill="rgba(60,60,60,0.2279780387860438)"/><rect x="768" y="919.8" width="60" height="35" fill="rgb(255,255,255)"/><rect x="786" y="931.8" width="26" height="9" fill="rgba(60,60,60,0.22)"/><rect x="828" y="919.8" width="62" height="35" fill="rgb(255,255,255)"/><rect x="846" y="931.8" width="26" height="9" fill="rgba(60,60,60,0.22)"/><rect x="890" y="919.8" width="60" height="35" fill="rgb(251,229,234)"/><rect x="908" y="931.8" width="28" height="9" fill="#55557a" fill-opacity="0.55"/></svg>
<svg style="left:649px;top:237px" width="100" height="100" viewBox="0 0 998 998"><path d="M85 100 H905" stroke="#efefef" stroke-width="5"/><path d="M85 240 H905" stroke="#efefef" stroke-width="5"/><path d="M85 380 H905" stroke="#efefef" stroke-width="5"/><path d="M85 520 H905" stroke="#efefef" stroke-width="5"/><path d="M85 660 H905" stroke="#efefef" stroke-width="5"/><path d="M85 800 H905" stroke="#efefef" stroke-width="5"/><path d="M85 940 H905" stroke="#ccc" stroke-width="5"/><rect x="50" y="94" width="22" height="10" fill="#d5d5d5"/><rect x="50" y="234" width="22" height="10" fill="#d5d5d5"/><rect x="50" y="374" width="22" height="10" fill="#d5d5d5"/><rect x="50" y="514" width="22" height="10" fill="#d5d5d5"/><rect x="50" y="654" width="22" height="10" fill="#d5d5d5"/><rect x="50" y="794" width="22" height="10" fill="#d5d5d5"/><rect x="50" y="934" width="22" height="10" fill="#d5d5d5"/><rect x="80" y="952" width="22" height="10" fill="#d5d5d5"/><rect x="155" y="952" width="22" height="10" fill="#d5d5d5"/><rect x="225" y="952" width="22" height="10" fill="#d5d5d5"/><rect x="300" y="952" width="22" height="10" fill="#d5d5d5"/><rect x="375" y="952" width="22" height="10" fill="#d5d5d5"/><rect x="450" y="952" width="22" height="10" fill="#d5d5d5"/><rect x="520" y="952" width="22" height="10" fill="#d5d5d5"/><rect x="595" y="952" width="22" height="10" fill="#d5d5d5"/><rect x="670" y="952" width="22" height="10" fill="#d5d5d5"/><rect x="745" y="952" width="22" height="10" fill="#d5d5d5"/><rect x="820" y="952" width="22" height="10" fill="#d5d5d5"/><path d="M90 745 L165 820 L235 690 L310 640 L385 490 L460 385 L530 670 L605 230 L680 275 L755 320 L830 355 L905 135" fill="none" stroke="#8fd3a8" stroke-width="9" stroke-linejoin="round"/><path d="M90 760 L165 905 L235 700 L310 770 L385 650 L460 545 L530 750 L605 395 L680 525 L755 660 L830 380 L905 325" fill="none" stroke="#7a7fa8" stroke-width="9" stroke-linejoin="round"/><path d="M90 780 L165 815 L235 695 L310 695 L385 640 L460 510 L530 790 L605 490 L680 405 L755 485 L830 235 L905 405" fill="none" stroke="#6ccbe0" stroke-width="9" stroke-linejoin="round"/><rect x="548" y="56" width="24" height="12" fill="#8ed6e6"/><rect x="580" y="56" width="70" height="10" fill="#c8c8c8"/><rect x="672" y="56" width="24" height="12" fill="#9ca0c4"/><rect x="705" y="56" width="105" height="10" fill="#c8c8c8"/><rect x="835" y="56" width="24" height="12" fill="#a8e0bd"/><rect x="868" y="56" width="80" height="10" fill="#c8c8c8"/></svg>
<svg style="left:755px;top:237px" width="100" height="100" viewBox="0 0 998 998"><path d="M115 65 H925" stroke="#f0f0f0" stroke-width="5"/><rect x="68" y="59" width="28" height="10" fill="#d8d8d8"/><path d="M115 190 H925" stroke="#f0f0f0" stroke-width="5"/><rect x="68" y="184" width="28" height="10" fill="#d8d8d8"/><path d="M115 313 H925" stroke="#f0f0f0" stroke-width="5"/><rect x="68" y="307" width="28" height="10" fill="#d8d8d8"/><path d="M115 437 H925" stroke="#f0f0f0" stroke-width="5"/><rect x="68" y="431" width="28" height="10" fill="#d8d8d8"/><path d="M115 561 H925" stroke="#f0f0f0" stroke-width="5"/><rect x="68" y="555" width="28" height="10" fill="#d8d8d8"/><path d="M115 685 H925" stroke="#f0f0f0" stroke-width="5"/><rect x="68" y="679" width="28" height="10" fill="#d8d8d8"/><path d="M115 809 H925" stroke="#f0f0f0" stroke-width="5"/><rect x="68" y="803" width="28" height="10" fill="#d8d8d8"/><path d="M115 680 L185 800 L255 605 L330 650 L405 545 L480 405 L550 690 L625 300 L700 335 L775 460 L850 145 L925 215 L925 935 L115 935 Z" fill="#fde3d2"/><path d="M115 880 L185 905 L255 830 L330 830 L405 795 L480 720 L550 885 L625 705 L700 655 L775 705 L850 560 L925 655 L925 935 L115 935 Z" fill="#d6e4ef"/><path d="M115 680 L185 800 L255 605 L330 650 L405 545 L480 405 L550 690 L625 300 L700 335 L775 460 L850 145 L925 215" fill="none" stroke="#fca36c" stroke-width="10" stroke-linejoin="round"/><path d="M115 880 L185 905 L255 830 L330 830 L405 795 L480 720 L550 885 L625 705 L700 655 L775 705 L850 560 L925 655" fill="none" stroke="#5f9cc6" stroke-width="10" stroke-linejoin="round"/><path d="M110 935 H930" stroke="#ccc" stroke-width="5"/><rect x="103" y="948" width="24" height="9" fill="#d5d5d5"/><rect x="173" y="948" width="24" height="9" fill="#d5d5d5"/><rect x="243" y="948" width="24" height="9" fill="#d5d5d5"/><rect x="318" y="948" width="24" height="9" fill="#d5d5d5"/><rect x="393" y="948" width="24" height="9" fill="#d5d5d5"/><rect x="468" y="948" width="24" height="9" fill="#d5d5d5"/><rect x="538" y="948" width="24" height="9" fill="#d5d5d5"/><rect x="613" y="948" width="24" height="9" fill="#d5d5d5"/><rect x="688" y="948" width="24" height="9" fill="#d5d5d5"/><rect x="763" y="948" width="24" height="9" fill="#d5d5d5"/><rect x="838" y="948" width="24" height="9" fill="#d5d5d5"/></svg>
<svg style="left:861px;top:237px" width="100" height="100" viewBox="0 0 998 998"><path d="M80 55 H945" stroke="#f0f0f0" stroke-width="5"/><rect x="35" y="50" width="30" height="9" fill="#dadada"/><path d="M80 228 H945" stroke="#f0f0f0" stroke-width="5"/><rect x="35" y="223" width="30" height="9" fill="#dadada"/><path d="M80 400 H945" stroke="#f0f0f0" stroke-width="5"/><rect x="35" y="395" width="30" height="9" fill="#dadada"/><path d="M80 573 H945" stroke="#f0f0f0" stroke-width="5"/><rect x="35" y="568" width="30" height="9" fill="#dadada"/><path d="M80 745 H945" stroke="#f0f0f0" stroke-width="5"/><rect x="35" y="740" width="30" height="9" fill="#dadada"/><rect x="79" y="700" width="22" height="105" fill="#fdb839"/><rect x="79" y="805" width="22" height="113" fill="#5ac8a8"/><rect x="116" y="688" width="22" height="142" fill="#fdb839"/><rect x="116" y="830" width="22" height="88" fill="#5ac8a8"/><rect x="152" y="592" width="22" height="220" fill="#fdb839"/><rect x="152" y="812" width="22" height="106" fill="#5ac8a8"/><rect x="189" y="632" width="22" height="133" fill="#fdb839"/><rect x="189" y="765" width="22" height="153" fill="#5ac8a8"/><rect x="225" y="545" width="22" height="203" fill="#fdb839"/><rect x="225" y="748" width="22" height="170" fill="#5ac8a8"/><rect x="261" y="468" width="22" height="240" fill="#fdb839"/><rect x="261" y="708" width="22" height="210" fill="#5ac8a8"/><rect x="298" y="620" width="22" height="152" fill="#fdb839"/><rect x="298" y="772" width="22" height="146" fill="#5ac8a8"/><rect x="334" y="437" width="22" height="281" fill="#fdb839"/><rect x="334" y="718" width="22" height="200" fill="#5ac8a8"/><rect x="371" y="262" width="22" height="313" fill="#fdb839"/><rect x="371" y="575" width="22" height="343" fill="#5ac8a8"/><rect x="407" y="448" width="22" height="280" fill="#fdb839"/><rect x="407" y="728" width="22" height="190" fill="#5ac8a8"/><rect x="444" y="238" width="22" height="379" fill="#fdb839"/><rect x="444" y="617" width="22" height="301" fill="#5ac8a8"/><rect x="480" y="230" width="22" height="405" fill="#fdb839"/><rect x="480" y="635" width="22" height="283" fill="#5ac8a8"/><rect x="519" y="595" width="22" height="163" fill="#fdb839"/><rect x="519" y="758" width="22" height="160" fill="#5ac8a8"/><rect x="556" y="710" width="22" height="128" fill="#fdb839"/><rect x="556" y="838" width="22" height="80" fill="#5ac8a8"/><rect x="591" y="548" width="22" height="189" fill="#fdb839"/><rect x="591" y="737" width="22" height="181" fill="#5ac8a8"/><rect x="627" y="552" width="22" height="218" fill="#fdb839"/><rect x="627" y="770" width="22" height="148" fill="#5ac8a8"/><rect x="664" y="418" width="22" height="292" fill="#fdb839"/><rect x="664" y="710" width="22" height="208" fill="#5ac8a8"/><rect x="701" y="317" width="22" height="341" fill="#fdb839"/><rect x="701" y="658" width="22" height="260" fill="#5ac8a8"/><rect x="737" y="562" width="22" height="198" fill="#fdb839"/><rect x="737" y="760" width="22" height="158" fill="#5ac8a8"/><rect x="774" y="163" width="22" height="422" fill="#fdb839"/><rect x="774" y="585" width="22" height="333" fill="#5ac8a8"/><rect x="811" y="252" width="22" height="396" fill="#fdb839"/><rect x="811" y="648" width="22" height="270" fill="#5ac8a8"/><rect x="847" y="340" width="22" height="376" fill="#fdb839"/><rect x="847" y="716" width="22" height="202" fill="#5ac8a8"/><rect x="884" y="218" width="22" height="357" fill="#fdb839"/><rect x="884" y="575" width="22" height="343" fill="#5ac8a8"/><rect x="921" y="85" width="22" height="465" fill="#fdb839"/><rect x="921" y="550" width="22" height="368" fill="#5ac8a8"/><path d="M75 920 H948" stroke="#ccc" stroke-width="5"/><rect x="72" y="935" width="36" height="10" fill="#cfcfcf"/><rect x="182" y="935" width="36" height="10" fill="#cfcfcf"/><rect x="291" y="935" width="36" height="10" fill="#cfcfcf"/><rect x="400" y="935" width="36" height="10" fill="#cfcfcf"/><rect x="512" y="935" width="36" height="10" fill="#cfcfcf"/><rect x="620" y="935" width="36" height="10" fill="#cfcfcf"/><rect x="730" y="935" width="36" height="10" fill="#cfcfcf"/><rect x="840" y="935" width="36" height="10" fill="#cfcfcf"/></svg>
<svg style="left:967px;top:237px" width="100" height="100" viewBox="0 0 998 998"><path d="M80 50 H945" stroke="#efefef" stroke-width="5"/><rect x="38" y="45" width="28" height="9" fill="#dadada"/><path d="M80 222 H945" stroke="#efefef" stroke-width="5"/><rect x="38" y="217" width="28" height="9" fill="#dadada"/><path d="M80 395 H945" stroke="#efefef" stroke-width="5"/><rect x="38" y="390" width="28" height="9" fill="#dadada"/><path d="M80 570 H945" stroke="#efefef" stroke-width="5"/><rect x="38" y="565" width="28" height="9" fill="#dadada"/><path d="M80 743 H945" stroke="#efefef" stroke-width="5"/><rect x="38" y="738" width="28" height="9" fill="#dadada"/><path d="M75 915 H948" stroke="#ccc" stroke-width="5"/><rect x="63" y="932" width="30" height="10" fill="#cfcfcf"/><rect x="173" y="932" width="30" height="10" fill="#cfcfcf"/><rect x="285" y="932" width="30" height="10" fill="#cfcfcf"/><rect x="400" y="932" width="30" height="10" fill="#cfcfcf"/><rect x="510" y="932" width="30" height="10" fill="#cfcfcf"/><rect x="625" y="932" width="30" height="10" fill="#cfcfcf"/><rect x="740" y="932" width="30" height="10" fill="#cfcfcf"/><rect x="855" y="932" width="30" height="10" fill="#cfcfcf"/><rect x="67" y="700" width="16" height="16" rx="5" fill="#8fd86a" fill-opacity="0.9"/><rect x="107" y="734" width="16" height="16" rx="5" fill="#8fd86a" fill-opacity="0.9"/><rect x="142" y="634" width="16" height="16" rx="5" fill="#8fd86a" fill-opacity="0.9"/><rect x="182" y="652" width="16" height="16" rx="5" fill="#8fd86a" fill-opacity="0.9"/><rect x="220" y="534" width="16" height="16" rx="5" fill="#8fd86a" fill-opacity="0.9"/><rect x="257" y="504" width="16" height="16" rx="5" fill="#8fd86a" fill-opacity="0.9"/><rect x="294" y="694" width="16" height="16" rx="5" fill="#8fd86a" fill-opacity="0.9"/><rect x="332" y="464" width="16" height="16" rx="5" fill="#8fd86a" fill-opacity="0.9"/><rect x="370" y="452" width="16" height="16" rx="5" fill="#8fd86a" fill-opacity="0.9"/><rect x="410" y="472" width="16" height="16" rx="5" fill="#8fd86a" fill-opacity="0.9"/><rect x="447" y="195" width="16" height="16" rx="5" fill="#8fd86a" fill-opacity="0.9"/><rect x="484" y="187" width="16" height="16" rx="5" fill="#8fd86a" fill-opacity="0.9"/><rect x="522" y="660" width="16" height="16" rx="5" fill="#8fd86a" fill-opacity="0.9"/><rect x="560" y="702" width="16" height="16" rx="5" fill="#8fd86a" fill-opacity="0.9"/><rect x="595" y="522" width="16" height="16" rx="5" fill="#8fd86a" fill-opacity="0.9"/><rect x="634" y="634" width="16" height="16" rx="5" fill="#8fd86a" fill-opacity="0.9"/><rect x="672" y="452" width="16" height="16" rx="5" fill="#8fd86a" fill-opacity="0.9"/><rect x="710" y="344" width="16" height="16" rx="5" fill="#8fd86a" fill-opacity="0.9"/><rect x="747" y="644" width="16" height="16" rx="5" fill="#8fd86a" fill-opacity="0.9"/><rect x="785" y="287" width="16" height="16" rx="5" fill="#8fd86a" fill-opacity="0.9"/><rect x="823" y="292" width="16" height="16" rx="5" fill="#8fd86a" fill-opacity="0.9"/><rect x="861" y="382" width="16" height="16" rx="5" fill="#8fd86a" fill-opacity="0.9"/><rect x="899" y="127" width="16" height="16" rx="5" fill="#8fd86a" fill-opacity="0.9"/><rect x="937" y="192" width="16" height="16" rx="5" fill="#8fd86a" fill-opacity="0.9"/><rect x="67" y="694" width="16" height="16" rx="5" fill="#2ec7d6" fill-opacity="0.9"/><rect x="107" y="707" width="16" height="16" rx="5" fill="#2ec7d6" fill-opacity="0.9"/><rect x="182" y="642" width="16" height="16" rx="5" fill="#2ec7d6" fill-opacity="0.9"/><rect x="220" y="497" width="16" height="16" rx="5" fill="#2ec7d6" fill-opacity="0.9"/><rect x="257" y="497" width="16" height="16" rx="5" fill="#2ec7d6" fill-opacity="0.9"/><rect x="294" y="677" width="16" height="16" rx="5" fill="#2ec7d6" fill-opacity="0.9"/><rect x="332" y="437" width="16" height="16" rx="5" fill="#2ec7d6" fill-opacity="0.9"/><rect x="370" y="437" width="16" height="16" rx="5" fill="#2ec7d6" fill-opacity="0.9"/><rect x="410" y="464" width="16" height="16" rx="5" fill="#2ec7d6" fill-opacity="0.9"/><rect x="447" y="187" width="16" height="16" rx="5" fill="#2ec7d6" fill-opacity="0.9"/><rect x="484" y="159" width="16" height="16" rx="5" fill="#2ec7d6" fill-opacity="0.9"/><rect x="560" y="697" width="16" height="16" rx="5" fill="#2ec7d6" fill-opacity="0.9"/><rect x="595" y="479" width="16" height="16" rx="5" fill="#2ec7d6" fill-opacity="0.9"/><rect x="634" y="592" width="16" height="16" rx="5" fill="#2ec7d6" fill-opacity="0.9"/><rect x="672" y="447" width="16" height="16" rx="5" fill="#2ec7d6" fill-opacity="0.9"/><rect x="710" y="322" width="16" height="16" rx="5" fill="#2ec7d6" fill-opacity="0.9"/><rect x="785" y="207" width="16" height="16" rx="5" fill="#2ec7d6" fill-opacity="0.9"/><rect x="823" y="267" width="16" height="16" rx="5" fill="#2ec7d6" fill-opacity="0.9"/><rect x="861" y="369" width="16" height="16" rx="5" fill="#2ec7d6" fill-opacity="0.9"/><rect x="937" y="162" width="16" height="16" rx="5" fill="#2ec7d6" fill-opacity="0.9"/><rect x="67" y="754" width="16" height="16" rx="5" fill="#2a7590" fill-opacity="0.9"/><rect x="107" y="772" width="16" height="16" rx="5" fill="#2a7590" fill-opacity="0.9"/><rect x="142" y="792" width="16" height="16" rx="5" fill="#2a7590" fill-opacity="0.9"/><rect x="182" y="730" width="16" height="16" rx="5" fill="#2a7590" fill-opacity="0.9"/><rect x="220" y="742" width="16" height="16" rx="5" fill="#2a7590" fill-opacity="0.9"/><rect x="257" y="624" width="16" height="16" rx="5" fill="#2a7590" fill-opacity="0.9"/><rect x="294" y="765" width="16" height="16" rx="5" fill="#2a7590" fill-opacity="0.9"/><rect x="332" y="664" width="16" height="16" rx="5" fill="#2a7590" fill-opacity="0.9"/><rect x="370" y="654" width="16" height="16" rx="5" fill="#2a7590" fill-opacity="0.9"/><rect x="410" y="600" width="16" height="16" rx="5" fill="#2a7590" fill-opacity="0.9"/><rect x="447" y="474" width="16" height="16" rx="5" fill="#2a7590" fill-opacity="0.9"/><rect x="484" y="484" width="16" height="16" rx="5" fill="#2a7590" fill-opacity="0.9"/><rect x="522" y="730" width="16" height="16" rx="5" fill="#2a7590" fill-opacity="0.9"/><rect x="560" y="804" width="16" height="16" rx="5" fill="#2a7590" fill-opacity="0.9"/><rect x="595" y="762" width="16" height="16" rx="5" fill="#2a7590" fill-opacity="0.9"/><rect x="634" y="715" width="16" height="16" rx="5" fill="#2a7590" fill-opacity="0.9"/><rect x="672" y="644" width="16" height="16" rx="5" fill="#2a7590" fill-opacity="0.9"/><rect x="710" y="508" width="16" height="16" rx="5" fill="#2a7590" fill-opacity="0.9"/><rect x="747" y="744" width="16" height="16" rx="5" fill="#2a7590" fill-opacity="0.9"/><rect x="785" y="587" width="16" height="16" rx="5" fill="#2a7590" fill-opacity="0.9"/><rect x="823" y="542" width="16" height="16" rx="5" fill="#2a7590" fill-opacity="0.9"/><rect x="861" y="555" width="16" height="16" rx="5" fill="#2a7590" fill-opacity="0.9"/><rect x="899" y="432" width="16" height="16" rx="5" fill="#2a7590" fill-opacity="0.9"/><rect x="937" y="417" width="16" height="16" rx="5" fill="#2a7590" fill-opacity="0.9"/></svg>
</div>
<div class="b" style="left:223px;top:392px;width:104px;height:131px;border:3px solid #f29494;box-shadow:1px 2px 3px rgba(0,0,0,0.22);"></div>
<div class="b" style="left:226px;top:396px;width:96px;height:96px;border:2px solid #90cfe0;border-radius:5px;background:#fff;"></div>
<div class="b" style="left:332px;top:396px;width:96px;height:96px;border:1px solid #e3e3e3;border-radius:4px;background:#fff;"></div>
<div class="b" style="left:438px;top:396px;width:96px;height:96px;border:1px solid #e3e3e3;border-radius:4px;background:#fff;"></div>
<svg style="left:0;top:0" width="1098" height="998" viewBox="0 0 1098 998"><path d="M276.40 409.00 A34.5 34.5 0 0 1 310.74 440.13 L295.81 441.60 A19.5 19.5 0 0 0 276.40 424.00 Z" fill="#1fa8c9"/><path d="M310.74 440.13 A34.5 34.5 0 0 1 296.14 471.80 L287.56 459.49 A19.5 19.5 0 0 0 295.81 441.60 Z" fill="#454e7c"/><path d="M296.14 471.80 A34.5 34.5 0 0 1 272.85 477.82 L274.40 462.90 A19.5 19.5 0 0 0 287.56 459.49 Z" fill="#5ac189"/><path d="M272.85 477.82 A34.5 34.5 0 0 1 253.31 469.14 L263.35 457.99 A19.5 19.5 0 0 0 274.40 462.90 Z" fill="#ff7f44"/><path d="M253.31 469.14 A34.5 34.5 0 0 1 243.24 453.01 L257.66 448.87 A19.5 19.5 0 0 0 263.35 457.99 Z" fill="#666666"/><path d="M243.24 453.01 A34.5 34.5 0 0 1 242.78 435.74 L257.40 439.11 A19.5 19.5 0 0 0 257.66 448.87 Z" fill="#e04355"/><path d="M242.78 435.74 A34.5 34.5 0 0 1 248.67 422.98 L260.72 431.90 A19.5 19.5 0 0 0 257.40 439.11 Z" fill="#fcc700"/><path d="M248.67 422.98 A34.5 34.5 0 0 1 255.78 415.84 L264.75 427.87 A19.5 19.5 0 0 0 260.72 431.90 Z" fill="#a868b7"/><path d="M255.78 415.84 A34.5 34.5 0 0 1 264.49 411.12 L269.67 425.20 A19.5 19.5 0 0 0 264.75 427.87 Z" fill="#3ccccb"/><path d="M264.49 411.12 A34.5 34.5 0 0 1 271.24 409.39 L273.48 424.22 A19.5 19.5 0 0 0 269.67 425.20 Z" fill="#a38f79"/><path d="M271.24 409.39 A34.5 34.5 0 0 1 274.17 409.07 L275.14 424.04 A19.5 19.5 0 0 0 273.48 424.22 Z" fill="#8fd3e4"/><path d="M274.17 409.07 A34.5 34.5 0 0 1 275.50 409.01 L275.89 424.01 A19.5 19.5 0 0 0 275.14 424.04 Z" fill="#a1a6bd"/><path d="M275.50 409.01 A34.5 34.5 0 0 1 276.40 409.00 L276.40 424.00 A19.5 19.5 0 0 0 275.89 424.01 Z" fill="#ace1c4"/></svg>
<svg style="left:220px;top:390px" width="110" height="110" viewBox="0 0 998 998"><g fill-opacity="0.55"><rect x="735" y="230" width="14" height="13" fill="#1fa8c9"/><rect x="755" y="232" width="25" height="9" fill="#1fa8c9" fill-opacity="0.5"/><rect x="810" y="613" width="14" height="13" fill="#454e7c"/><rect x="830" y="615" width="25" height="9" fill="#454e7c" fill-opacity="0.5"/><rect x="612" y="800" width="14" height="13" fill="#5ac189"/><rect x="632" y="802" width="40" height="9" fill="#5ac189" fill-opacity="0.5"/><rect x="312" y="783" width="14" height="13" fill="#ff7f44"/><rect x="332" y="785" width="30" height="9" fill="#ff7f44" fill-opacity="0.5"/><rect x="185" y="655" width="14" height="13" fill="#666666"/><rect x="205" y="657" width="30" height="9" fill="#666666" fill-opacity="0.5"/><rect x="138" y="485" width="14" height="13" fill="#e04355"/><rect x="158" y="487" width="30" height="9" fill="#e04355" fill-opacity="0.5"/><rect x="168" y="340" width="14" height="13" fill="#fcc700"/><rect x="188" y="342" width="30" height="9" fill="#fcc700" fill-opacity="0.5"/><rect x="228" y="243" width="14" height="13" fill="#a868b7"/><rect x="248" y="245" width="30" height="9" fill="#a868b7" fill-opacity="0.5"/><rect x="280" y="198" width="14" height="13" fill="#3ccccb"/><rect x="300" y="200" width="40" height="9" fill="#3ccccb" fill-opacity="0.5"/><rect x="305" y="181" width="14" height="13" fill="#a38f79"/><rect x="325" y="183" width="40" height="9" fill="#a38f79" fill-opacity="0.5"/><rect x="345" y="163" width="14" height="13" fill="#8fd3e4"/><rect x="365" y="165" width="60" height="9" fill="#8fd3e4" fill-opacity="0.5"/><rect x="380" y="146" width="14" height="13" fill="#a1a6bd"/><rect x="400" y="148" width="50" height="9" fill="#a1a6bd" fill-opacity="0.5"/></g></svg>
<svg style="left:331px;top:394px" width="100" height="100" viewBox="0 0 998 998"><path d="M115 118 H915" stroke="#eeeeee" stroke-width="4"/><rect x="62" y="113" width="38" height="9" fill="#d5d5d5"/><path d="M115 188 H915" stroke="#eeeeee" stroke-width="4"/><rect x="62" y="183" width="38" height="9" fill="#d5d5d5"/><path d="M115 258 H915" stroke="#eeeeee" stroke-width="4"/><rect x="62" y="253" width="38" height="9" fill="#d5d5d5"/><path d="M115 328 H915" stroke="#eeeeee" stroke-width="4"/><rect x="62" y="323" width="38" height="9" fill="#d5d5d5"/><path d="M115 398 H915" stroke="#eeeeee" stroke-width="4"/><rect x="62" y="393" width="38" height="9" fill="#d5d5d5"/><path d="M115 468 H915" stroke="#eeeeee" stroke-width="4"/><rect x="62" y="463" width="38" height="9" fill="#d5d5d5"/><path d="M115 538 H915" stroke="#eeeeee" stroke-width="4"/><rect x="62" y="533" width="38" height="9" fill="#d5d5d5"/><path d="M115 608 H915" stroke="#eeeeee" stroke-width="4"/><rect x="62" y="603" width="38" height="9" fill="#d5d5d5"/><path d="M115 678 H915" stroke="#eeeeee" stroke-width="4"/><rect x="62" y="673" width="38" height="9" fill="#d5d5d5"/><path d="M115 748 H915" stroke="#eeeeee" stroke-width="4"/><rect x="62" y="743" width="38" height="9" fill="#d5d5d5"/><path d="M115 818 H915" stroke="#eeeeee" stroke-width="4"/><rect x="62" y="813" width="38" height="9" fill="#d5d5d5"/><path d="M195 110 V865" stroke="#f3f3f3" stroke-width="4"/><path d="M275 110 V865" stroke="#f3f3f3" stroke-width="4"/><path d="M355 110 V865" stroke="#f3f3f3" stroke-width="4"/><path d="M435 110 V865" stroke="#f3f3f3" stroke-width="4"/><path d="M515 110 V865" stroke="#f3f3f3" stroke-width="4"/><path d="M595 110 V865" stroke="#f3f3f3" stroke-width="4"/><path d="M675 110 V865" stroke="#f3f3f3" stroke-width="4"/><path d="M755 110 V865" stroke="#f3f3f3" stroke-width="4"/><path d="M835 110 V865" stroke="#f3f3f3" stroke-width="4"/><rect x="120" y="375" width="35" height="490" fill="#fe8a86"/><rect x="155" y="118" width="35" height="747" fill="#8c3777"/><rect x="145" y="878" width="12" height="16" fill="#ccc"/><rect x="200" y="548" width="35" height="317" fill="#fe8a86"/><rect x="235" y="410" width="35" height="455" fill="#8c3777"/><rect x="225" y="878" width="12" height="16" fill="#ccc"/><rect x="280" y="552" width="35" height="313" fill="#fe8a86"/><rect x="315" y="378" width="35" height="487" fill="#8c3777"/><rect x="305" y="878" width="12" height="16" fill="#ccc"/><rect x="360" y="645" width="35" height="220" fill="#fe8a86"/><rect x="395" y="540" width="35" height="325" fill="#8c3777"/><rect x="385" y="878" width="12" height="16" fill="#ccc"/><rect x="440" y="645" width="35" height="220" fill="#fe8a86"/><rect x="475" y="540" width="35" height="325" fill="#8c3777"/><rect x="465" y="878" width="12" height="16" fill="#ccc"/><rect x="520" y="645" width="35" height="220" fill="#fe8a86"/><rect x="555" y="542" width="35" height="323" fill="#8c3777"/><rect x="545" y="878" width="12" height="16" fill="#ccc"/><rect x="600" y="685" width="35" height="180" fill="#fe8a86"/><rect x="635" y="600" width="35" height="265" fill="#8c3777"/><rect x="625" y="878" width="12" height="16" fill="#ccc"/><rect x="680" y="688" width="35" height="177" fill="#fe8a86"/><rect x="715" y="598" width="35" height="267" fill="#8c3777"/><rect x="705" y="878" width="12" height="16" fill="#ccc"/><rect x="760" y="730" width="35" height="135" fill="#fe8a86"/><rect x="795" y="662" width="35" height="203" fill="#8c3777"/><rect x="785" y="878" width="12" height="16" fill="#ccc"/><rect x="840" y="750" width="35" height="115" fill="#fe8a86"/><rect x="875" y="690" width="35" height="175" fill="#8c3777"/><rect x="865" y="878" width="12" height="16" fill="#ccc"/><path d="M115 866 H915" stroke="#bbb" stroke-width="4"/><circle cx="145" cy="98" r="6" fill="#333"/><rect x="155" y="93" width="60" height="9" fill="#c5c5c5"/><rect x="235" y="93" width="70" height="9" fill="#c5c5c5"/><rect x="600" y="92" width="18" height="12" fill="#fe8a86"/><rect x="622" y="93" width="110" height="9" fill="#cfcfcf"/><rect x="752" y="92" width="18" height="12" fill="#8c3777"/><rect x="774" y="93" width="110" height="9" fill="#cfcfcf"/></svg>
<div class="b" style="left:440px;top:397px;width:93px;height:93px;overflow:hidden;border-radius:3px;"><svg style="left:-3px;top:13px" width="50" height="70" viewBox="0 0 713 998"><path d="M130 100 L250 80 L330 60 L470 50 L500 100 L420 140 L300 120 L150 125 Z" fill="#d4d4d4"/><path d="M25 150 L120 135 L250 130 L330 140 L320 175 L330 230 L400 245 L420 200 L470 190 L520 230 L555 240 L540 270 L480 300 L410 330 L400 370 L370 390 L320 390 L290 400 L260 430 L300 470 L350 470 L380 500 L370 520 L330 490 L260 450 L200 400 L150 340 L130 290 L80 210 L25 200 Z" fill="#c9c9c9"/><path d="M300 165 L360 160 L410 175 L400 225 L340 225 Z" fill="#ffffff"/><path d="M500 70 L713 40 L713 150 L640 185 L590 140 Z" fill="#cacaca"/><path d="M380 540 L430 520 L500 510 L560 540 L620 580 L690 620 L650 690 L580 740 L560 800 L520 860 L490 900 L460 920 L440 880 L450 800 L430 720 L400 640 L390 580 Z" fill="#d0d0d0"/><path d="M450 740 L560 760 L520 860 L470 910 L440 880 L450 800 Z" fill="#e3e3e3"/><path d="M470 640 L520 650 L560 720 L540 740 L480 700 Z" fill="#a0a0a0"/><path d="M525 525 L560 540 L555 565 L530 555 Z" fill="#4a4a4a"/><path d="M400 570 L430 565 L425 600 L405 600 Z" fill="#888"/><circle cx="297" cy="330" r="13" fill="#3a8e9c"/><circle cx="265" cy="425" r="9" fill="#5a9ea8"/><circle cx="563" cy="633" r="10" fill="#3a8e9c"/></svg><svg style="left:47px;top:13px" width="50" height="70" viewBox="0 0 713 998"><path d="M0 60 L90 50 L60 110 L0 130 Z" fill="#cacaca"/><path d="M230 190 L300 140 L380 130 L440 150 L400 200 L470 250 L520 280 L480 330 L400 340 L300 340 L200 330 L140 320 L160 260 L200 230 Z" fill="#d6d6d6"/><path d="M260 200 L330 170 L360 220 L320 260 L270 250 Z" fill="#f2f2f2"/><path d="M380 170 L520 100 L655 110 L655 240 L560 260 L480 250 L420 210 Z" fill="#c6c6c6"/><path d="M420 340 L520 330 L580 380 L560 440 L500 470 L450 420 Z" fill="#dcdcdc"/><path d="M500 260 L655 230 L655 480 L620 420 L580 380 L540 320 Z" fill="#8a8a8a"/><path d="M580 340 L655 330 L655 480 L620 400 Z" fill="#3a3a3a"/><path d="M90 430 L130 360 L200 340 L300 350 L380 370 L420 380 L440 420 L360 430 L250 440 L150 450 Z" fill="#bdbdbd"/><path d="M90 430 L220 440 L250 540 L150 540 L100 500 Z" fill="#6e6e6e"/><path d="M220 440 L340 430 L360 500 L300 540 L230 500 Z" fill="#2c2c2c"/><path d="M360 420 L440 420 L500 500 L520 510 L450 600 L440 680 L390 650 L360 560 Z" fill="#3a3a3a"/><path d="M340 380 L400 380 L410 470 L360 480 Z" fill="#666"/><path d="M290 540 L390 540 L390 640 L300 620 Z" fill="#e2e2e2"/><path d="M270 610 L390 640 L440 700 L400 760 L330 790 L300 720 L280 650 Z" fill="#8c8c8c"/><path d="M480 680 L510 660 L500 720 L475 730 Z" fill="#3a3a3a"/><path d="M470 470 L525 455 L500 490 Z" fill="#444"/></svg></div>
<div class="t" style="left:174.0px;top:345.30px;font-size:15px;line-height:18.0px;color:#8c8c8c;letter-spacing:-0.26px;width:200px;text-align:center;">Big Number</div>
<div class="t" style="left:174.0px;top:367.30px;font-size:15px;line-height:18.0px;color:#8c8c8c;letter-spacing:-0.26px;width:200px;text-align:center;">with Trendline</div>
<div class="t" style="left:280.0px;top:345.30px;font-size:15px;line-height:18.0px;color:#8c8c8c;letter-spacing:-0.26px;width:200px;text-align:center;">Big Number</div>
<div class="t" style="left:386.0px;top:345.30px;font-size:15px;line-height:18.0px;color:#8c8c8c;letter-spacing:-0.26px;width:200px;text-align:center;">Table</div>
<div class="t" style="left:492.0px;top:345.30px;font-size:15px;line-height:18.0px;color:#8c8c8c;letter-spacing:-0.26px;width:200px;text-align:center;">Pivot Table v2</div>
<div class="t" style="left:598.0px;top:346.10px;font-size:15px;line-height:18.0px;color:#8c8c8c;letter-spacing:-0.26px;width:200px;text-align:center;">Time-series</div>
<div class="t" style="left:598.0px;top:368.10px;font-size:15px;line-height:18.0px;color:#8c8c8c;letter-spacing:-0.26px;width:200px;text-align:center;">Line Chart</div>
<div class="t" style="left:704.0px;top:345.30px;font-size:15px;line-height:18.0px;color:#8c8c8c;letter-spacing:-0.26px;width:200px;text-align:center;">Time-series</div>
<div class="t" style="left:704.0px;top:367.30px;font-size:15px;line-height:18.0px;color:#8c8c8c;letter-spacing:-0.26px;width:200px;text-align:center;">Area Chart</div>
<div class="t" style="left:810.0px;top:345.30px;font-size:15px;line-height:18.0px;color:#8c8c8c;letter-spacing:-0.26px;width:200px;text-align:center;">Time-series</div>
<div class="t" style="left:810.0px;top:367.30px;font-size:15px;line-height:18.0px;color:#8c8c8c;letter-spacing:-0.26px;width:200px;text-align:center;">Bar Chart v2</div>
<div class="t" style="left:916.0px;top:345.30px;font-size:15px;line-height:18.0px;color:#8c8c8c;letter-spacing:-0.26px;width:200px;text-align:center;">Time-series</div>
<div class="t" style="left:916.0px;top:367.30px;font-size:15px;line-height:18.0px;color:#8c8c8c;letter-spacing:-0.26px;width:200px;text-align:center;">Scatter Plot</div>
<div class="t" style="left:174.0px;top:502.30px;font-size:15px;line-height:18.0px;color:#8c8c8c;letter-spacing:-0.26px;width:200px;text-align:center;">Pie Chart</div>
<div class="t" style="left:280.0px;top:502.30px;font-size:15px;line-height:18.0px;color:#8c8c8c;letter-spacing:-0.26px;width:200px;text-align:center;">Bar Chart</div>
<div class="t" style="left:386.0px;top:502.30px;font-size:15px;line-height:18.0px;color:#8c8c8c;letter-spacing:-0.26px;width:200px;text-align:center;">World Map</div>
<div class="t" style="left:36.0px;top:678.98px;font-size:16.4px;line-height:19.68px;color:#858585;letter-spacing:0.14px;-webkit-text-stroke:0.5px #858585;">Pie Chart</div>
<div class="b" style="left:36px;top:721px;width:75px;height:22px;background:#f0f0f0;border-radius:11px;"></div>
<div class="t" style="left:13.5px;top:726.18px;font-size:12.7px;line-height:15.24px;color:#323232;width:120px;text-align:center;">Aesthetic</div>
<div class="b" style="left:119px;top:721px;width:85.6px;height:22px;background:#f0f0f0;border-radius:11px;"></div>
<div class="t" style="left:101.80000000000001px;top:726.18px;font-size:12.7px;line-height:15.24px;color:#323232;width:120px;text-align:center;">Categorical</div>
<div class="b" style="left:213px;top:721px;width:64px;height:22px;background:#f0f0f0;border-radius:11px;"></div>
<div class="t" style="left:185.0px;top:726.18px;font-size:12.7px;line-height:15.24px;color:#323232;width:120px;text-align:center;">Circular</div>
<div class="b" style="left:285px;top:721px;width:90px;height:22px;background:#f0f0f0;border-radius:11px;"></div>
<div class="t" style="left:270.0px;top:726.18px;font-size:12.7px;line-height:15.24px;color:#323232;width:120px;text-align:center;">Comparison</div>
<div class="b" style="left:36px;top:749px;width:92px;height:22px;background:#f0f0f0;border-radius:11px;"></div>
<div class="t" style="left:22.0px;top:754.18px;font-size:12.7px;line-height:15.24px;color:#323232;width:120px;text-align:center;">Percentages</div>
<div class="b" style="left:136px;top:749px;width:64px;height:22px;background:#f0f0f0;border-radius:11px;"></div>
<div class="t" style="left:108.0px;top:754.18px;font-size:12.7px;line-height:15.24px;color:#323232;width:120px;text-align:center;">Popular</div>
<div class="b" style="left:208px;top:749px;width:91px;height:22px;background:#f0f0f0;border-radius:11px;"></div>
<div class="t" style="left:193.5px;top:754.18px;font-size:12.7px;line-height:15.24px;color:#323232;width:120px;text-align:center;">Proportional</div>
<div class="b" style="left:307px;top:749px;width:66px;height:22px;background:#f0f0f0;border-radius:11px;"></div>
<div class="t" style="left:280.0px;top:754.18px;font-size:12.7px;line-height:15.24px;color:#323232;width:120px;text-align:center;">ECharts</div>
<div class="t" style="left:35.5px;top:787.30px;font-size:15px;line-height:18.0px;color:#8f8f8f;letter-spacing:-0.087px;">The classic. Great for showing how much of a company each</div>
<div class="t" style="left:35.5px;top:809.30px;font-size:15px;line-height:18.0px;color:#8f8f8f;letter-spacing:0.039px;">investor gets, what demographics follow your blog, or what portion</div>
<div class="t" style="left:35.5px;top:831.30px;font-size:15px;line-height:18.0px;color:#8f8f8f;letter-spacing:0.017px;">of the budget goes to the military industrial complex. Pie charts can</div>
<div class="t" style="left:35.5px;top:853.30px;font-size:15px;line-height:18.0px;color:#8f8f8f;letter-spacing:0.101px;">be difficult to interpret precisely. If clarity of relative proportion is</div>
<div class="t" style="left:35.5px;top:875.30px;font-size:15px;line-height:18.0px;color:#8f8f8f;letter-spacing:0.022px;">important, consider using a bar or other chart type instead.</div>
<div class="t" style="left:547.8px;top:678.98px;font-size:16.4px;line-height:19.68px;color:#858585;letter-spacing:0.07px;-webkit-text-stroke:0.5px #858585;">Examples</div>
<div class="b" style="left:917px;top:944px;width:160px;height:32px;background:#1a85a0;border-radius:4px;"></div>
<div class="t" style="left:935.4px;top:953.86px;font-size:12.3px;line-height:14.76px;color:#fff;letter-spacing:-0.3px;-webkit-text-stroke:0.5px #fff;">CREATE NEW CHART</div>
<div class="b" style="left:548px;top:721px;width:235px;height:180px;background:#f3f3f3;border:1px solid #dedede;border-radius:4px;"></div>
<div class="b" style="left:799px;top:721px;width:194px;height:180px;background:#f3f3f3;border:1px solid #dedede;border-radius:4px;"></div>
<div class="b" style="left:1009px;top:721px;width:51px;height:180px;overflow:hidden;"><div class="b" style="left:0;top:0;width:194px;height:180px;background:#f3f3f3;border:1px solid #dedede;border-radius:4px;"></div></div>
<svg style="left:0;top:0" width="1098" height="998" viewBox="0 0 1098 998"><path d="M665.5 813.8 L665.50 754.30 A59.5 59.5 0 1 1 658.87 872.93 Z" fill="#ff7f44"/><path d="M665.5 813.8 L658.87 872.93 A59.5 59.5 0 0 1 625.46 857.81 Z" fill="#666666"/><path d="M665.5 813.8 L625.46 857.81 A59.5 59.5 0 0 1 607.32 826.27 Z" fill="#e04355"/><path d="M665.5 813.8 L607.32 826.27 A59.5 59.5 0 0 1 608.33 797.30 Z" fill="#fcc700"/><path d="M665.5 813.8 L608.33 797.30 A59.5 59.5 0 0 1 620.87 774.45 Z" fill="#a868b7"/><path d="M665.5 813.8 L620.87 774.45 A59.5 59.5 0 0 1 632.06 764.59 Z" fill="#3ccccb"/><path d="M665.5 813.8 L632.06 764.59 A59.5 59.5 0 0 1 642.63 758.87 Z" fill="#a38f79"/><path d="M665.5 813.8 L642.63 758.87 A59.5 59.5 0 0 1 654.35 755.35 Z" fill="#8fd3e4"/><path d="M665.5 813.8 L654.35 755.35 A59.5 59.5 0 0 1 659.90 754.56 Z" fill="#a1a6bd"/><path d="M665.5 813.8 L659.90 754.56 A59.5 59.5 0 0 1 663.42 754.34 Z" fill="#ace1c4"/><path d="M665.5 813.8 L663.42 754.34 A59.5 59.5 0 0 1 665.50 754.30 Z" fill="#fec0a1"/><path d="M896.00 753.20 A57.8 57.8 0 0 1 933.15 855.28 L919.53 839.04 A36.6 36.6 0 0 0 896.00 774.40 Z" fill="#1fa8c9"/><path d="M933.15 855.28 A57.8 57.8 0 0 1 868.33 861.75 L878.48 843.13 A36.6 36.6 0 0 0 919.53 839.04 Z" fill="#454e7c"/><path d="M868.33 861.75 A57.8 57.8 0 0 1 841.45 830.10 L861.46 823.10 A36.6 36.6 0 0 0 878.48 843.13 Z" fill="#5ac189"/><path d="M841.45 830.10 A57.8 57.8 0 0 1 842.33 789.53 L862.02 797.41 A36.6 36.6 0 0 0 861.46 823.10 Z" fill="#ff7f44"/><path d="M842.33 789.53 A57.8 57.8 0 0 1 863.85 762.97 L875.64 780.59 A36.6 36.6 0 0 0 862.02 797.41 Z" fill="#666666"/><path d="M863.85 762.97 A57.8 57.8 0 0 1 887.96 753.76 L890.91 774.76 A36.6 36.6 0 0 0 875.64 780.59 Z" fill="#e04355"/><path d="M887.96 753.76 A57.8 57.8 0 0 1 896.00 753.20 L896.00 774.40 A36.6 36.6 0 0 0 890.91 774.76 Z" fill="#fcc700"/></svg>
<div class="b" style="left:559.5px;top:723.5px;width:6.5px;height:3.5px;background:#ff7f44;border-radius:1px;"></div>
<div class="t" style="left:567.8px;top:723.66px;font-size:6.6px;line-height:6.6px;color:#444;transform:scale(0.5);transform-origin:0 0;">F. Bachelor's degree</div>
<div class="b" style="left:601.5px;top:723.5px;width:6.5px;height:3.5px;background:#666666;border-radius:1px;"></div>
<div class="t" style="left:609.8px;top:723.66px;font-size:6.6px;line-height:6.6px;color:#444;transform:scale(0.5);transform-origin:0 0;">H. Master's degree (non-professional)</div>
<div class="b" style="left:669px;top:723.5px;width:6.5px;height:3.5px;background:#e04355;border-radius:1px;"></div>
<div class="t" style="left:677.3px;top:723.66px;font-size:6.6px;line-height:6.6px;color:#444;transform:scale(0.5);transform-origin:0 0;">E. Some college credit, no degree</div>
<div class="b" style="left:559.5px;top:730.3px;width:6.5px;height:3.5px;background:#fcc700;border-radius:1px;"></div>
<div class="t" style="left:567.8px;top:730.46px;font-size:6.6px;line-height:6.6px;color:#444;transform:scale(0.5);transform-origin:0 0;">C. High school diploma or equivalent (GED)</div>
<div class="b" style="left:636.5px;top:730.3px;width:6.5px;height:3.5px;background:#a868b7;border-radius:1px;"></div>
<div class="t" style="left:644.8px;top:730.46px;font-size:6.6px;line-height:6.6px;color:#444;transform:scale(0.5);transform-origin:0 0;">J. Professional degree (MBA, MD, JD, etc.)</div>
<div class="b" style="left:711.2px;top:730.3px;width:6.5px;height:3.5px;background:#3ccccb;border-radius:1px;"></div>
<div class="t" style="left:719.5px;top:730.46px;font-size:6.6px;line-height:6.6px;color:#444;transform:scale(0.5);transform-origin:0 0;">G. Trade, technical, or vocational training</div>
<div class="b" style="left:559.5px;top:737.1px;width:6.5px;height:3.5px;background:#a38f79;border-radius:1px;"></div>
<div class="t" style="left:567.8px;top:737.26px;font-size:6.6px;line-height:6.6px;color:#444;transform:scale(0.5);transform-origin:0 0;">D. Associate's degree</div>
<div class="b" style="left:603.5px;top:737.1px;width:6.5px;height:3.5px;background:#8fd3e4;border-radius:1px;"></div>
<div class="t" style="left:611.8px;top:737.26px;font-size:6.6px;line-height:6.6px;color:#444;transform:scale(0.5);transform-origin:0 0;">B. Some high school</div>
<div class="b" style="left:645.4px;top:737.1px;width:6.5px;height:3.5px;background:#a1a6bd;border-radius:1px;"></div>
<div class="t" style="left:653.6999999999999px;top:737.26px;font-size:6.6px;line-height:6.6px;color:#444;transform:scale(0.5);transform-origin:0 0;">A. No high school (secondary school)</div>
<div class="b" style="left:712.4px;top:737.1px;width:6.5px;height:3.5px;background:#ace1c4;border-radius:1px;"></div>
<div class="t" style="left:720.6999999999999px;top:737.26px;font-size:6.6px;line-height:6.6px;color:#444;transform:scale(0.5);transform-origin:0 0;">&lt;NULL&gt;</div>
<div class="b" style="left:736.2px;top:737.1px;width:6.5px;height:3.5px;background:#fec0a1;border-radius:1px;"></div>
<div class="t" style="left:744.5px;top:737.26px;font-size:6.6px;line-height:6.6px;color:#444;transform:scale(0.5);transform-origin:0 0;">I. Ph.D.</div>
<div class="t" style="left:734.2px;top:815.66px;font-size:6.6px;line-height:6.6px;color:#444;transform:scale(0.5);transform-origin:0 0;">F. Bachelor's degree</div>
<div class="t" style="left:577.4px;top:870.36px;font-size:6.6px;line-height:6.6px;color:#444;transform:scale(0.5);transform-origin:0 0;">H. Master's degree (non-professional)</div>
<div class="t" style="left:554.4px;top:843.96px;font-size:6.6px;line-height:6.6px;color:#444;transform:scale(0.5);transform-origin:0 0;">E. Some college credit, no degree</div>
<div class="t" style="left:557.9px;top:809.86px;font-size:6.6px;line-height:6.6px;color:#444;transform:scale(0.5);transform-origin:0 0;">C. High school diploma ...</div>
<div class="t" style="left:557.9px;top:781.46px;font-size:6.6px;line-height:6.6px;color:#444;transform:scale(0.5);transform-origin:0 0;">J. Professional degree (MBA,...</div>
<svg style="left:0;top:0" width="1098" height="998" viewBox="0 0 1098 998" fill="none" stroke-width="0.6"><path d="M725 817 H732" stroke="#ff7f44"/><path d="M634 871 L640 868" stroke="#666"/><path d="M605 845 L611 842" stroke="#e04355"/><path d="M597 811 H606" stroke="#fcc700"/><path d="M605 783 L614 786" stroke="#a868b7"/><path d="M948 791 L952 789.5 H958" stroke="#1fa8c9"/><path d="M904 868 V872 H906" stroke="#454e7c"/><path d="M844 850 L848 848" stroke="#5ac189"/><path d="M830 809 H838" stroke="#ff7f44"/><path d="M849 772 L853 773 L857 776" stroke="#666"/><path d="M871 754 L874 756" stroke="#e04355"/><path d="M890 749 L893 750 V753" stroke="#fcc700"/></svg>
<div class="t" style="left:960px;top:787.96px;font-size:6.6px;line-height:6.6px;color:#444;transform:scale(0.5);transform-origin:0 0;">Classic Cars</div>
<div class="t" style="left:907.4px;top:871.16px;font-size:6.6px;line-height:6.6px;color:#444;transform:scale(0.5);transform-origin:0 0;">Vintage Cars</div>
<div class="t" style="left:825.3px;top:849.36px;font-size:6.6px;line-height:6.6px;color:#444;transform:scale(0.5);transform-origin:0 0;">Motorcycles</div>
<div class="t" style="left:802.9px;top:808.16px;font-size:6.6px;line-height:6.6px;color:#444;transform:scale(0.5);transform-origin:0 0;">Trucks and Buses</div>
<div class="t" style="left:833.3px;top:770.56px;font-size:6.6px;line-height:6.6px;color:#444;transform:scale(0.5);transform-origin:0 0;">Planes</div>
<div class="t" style="left:861px;top:751.46px;font-size:6.6px;line-height:6.6px;color:#444;transform:scale(0.5);transform-origin:0 0;">Ships</div>
<div class="t" style="left:876.6px;top:747.26px;font-size:6.6px;line-height:6.6px;color:#444;transform:scale(0.5);transform-origin:0 0;">Trains</div>
<div class="b" style="left:1009px;top:721px;width:51px;height:180px;overflow:hidden;"><div class="b" style="left:11.299999999999955px;top:2.7000000000000455px;width:6.6px;height:3.5px;background:#1fa8c9;"></div>
<div class="t" style="left:19.700000000000045px;top:2.86px;font-size:6.6px;line-height:6.6px;color:#444;transform:scale(0.5);transform-origin:0 0;">F. Bachelor's degree</div>
<div class="b" style="left:11.299999999999955px;top:9.400000000000091px;width:6.6px;height:3.5px;background:#ff7f44;"></div>
<div class="t" style="left:19.700000000000045px;top:9.56px;font-size:6.6px;line-height:6.6px;color:#444;transform:scale(0.5);transform-origin:0 0;">C. High school diploma or equivalent (GED)</div>
<div class="b" style="left:11.299999999999955px;top:16.100000000000023px;width:6.6px;height:3.5px;background:#fcc700;"></div>
<div class="t" style="left:19.700000000000045px;top:16.26px;font-size:6.6px;line-height:6.6px;color:#444;transform:scale(0.5);transform-origin:0 0;">D. Associate's degree</div>
<div class="t" style="left:11.899999999999977px;top:71.46px;font-size:6.6px;line-height:6.6px;color:#444;transform:scale(0.5);transform-origin:0 0;">J. Professional degree (MBA</div>
<div class="t" style="left:6.5px;top:89.76px;font-size:6.6px;line-height:6.6px;color:#444;transform:scale(0.5);transform-origin:0 0;">C. High school diploma or equiv</div>
<div class="t" style="left:26.200000000000045px;top:111.26px;font-size:6.6px;line-height:6.6px;color:#444;transform:scale(0.5);transform-origin:0 0;">E. Some college credit</div>
<div class="t" style="left:38.799999999999955px;top:128.26px;font-size:6.6px;line-height:6.6px;color:#444;transform:scale(0.5);transform-origin:0 0;">H. Master's degree</div>
</div>
<svg style="left:0;top:0;filter:drop-shadow(1.5px 2px 1.6px rgba(0,0,0,0.45))" width="1098" height="998" viewBox="0 0 1098 998"><path d="M260.7 66.2 L178 107" stroke="#ff0000" stroke-width="5.4" stroke-linecap="round"/><path d="M163 113 L176.2 97.6 L185.2 113.4 Z" fill="#ff0000" stroke="#ff0000" stroke-width="3" stroke-linejoin="round"/><path d="M380.5 591.5 L331 532" stroke="#ff0000" stroke-width="5.2" stroke-linecap="round"/><path d="M321 519.8 L339.6 529.2 L326.4 539.6 Z" fill="#ff0000" stroke="#ff0000" stroke-width="3" stroke-linejoin="round"/></svg>
</body></html>
